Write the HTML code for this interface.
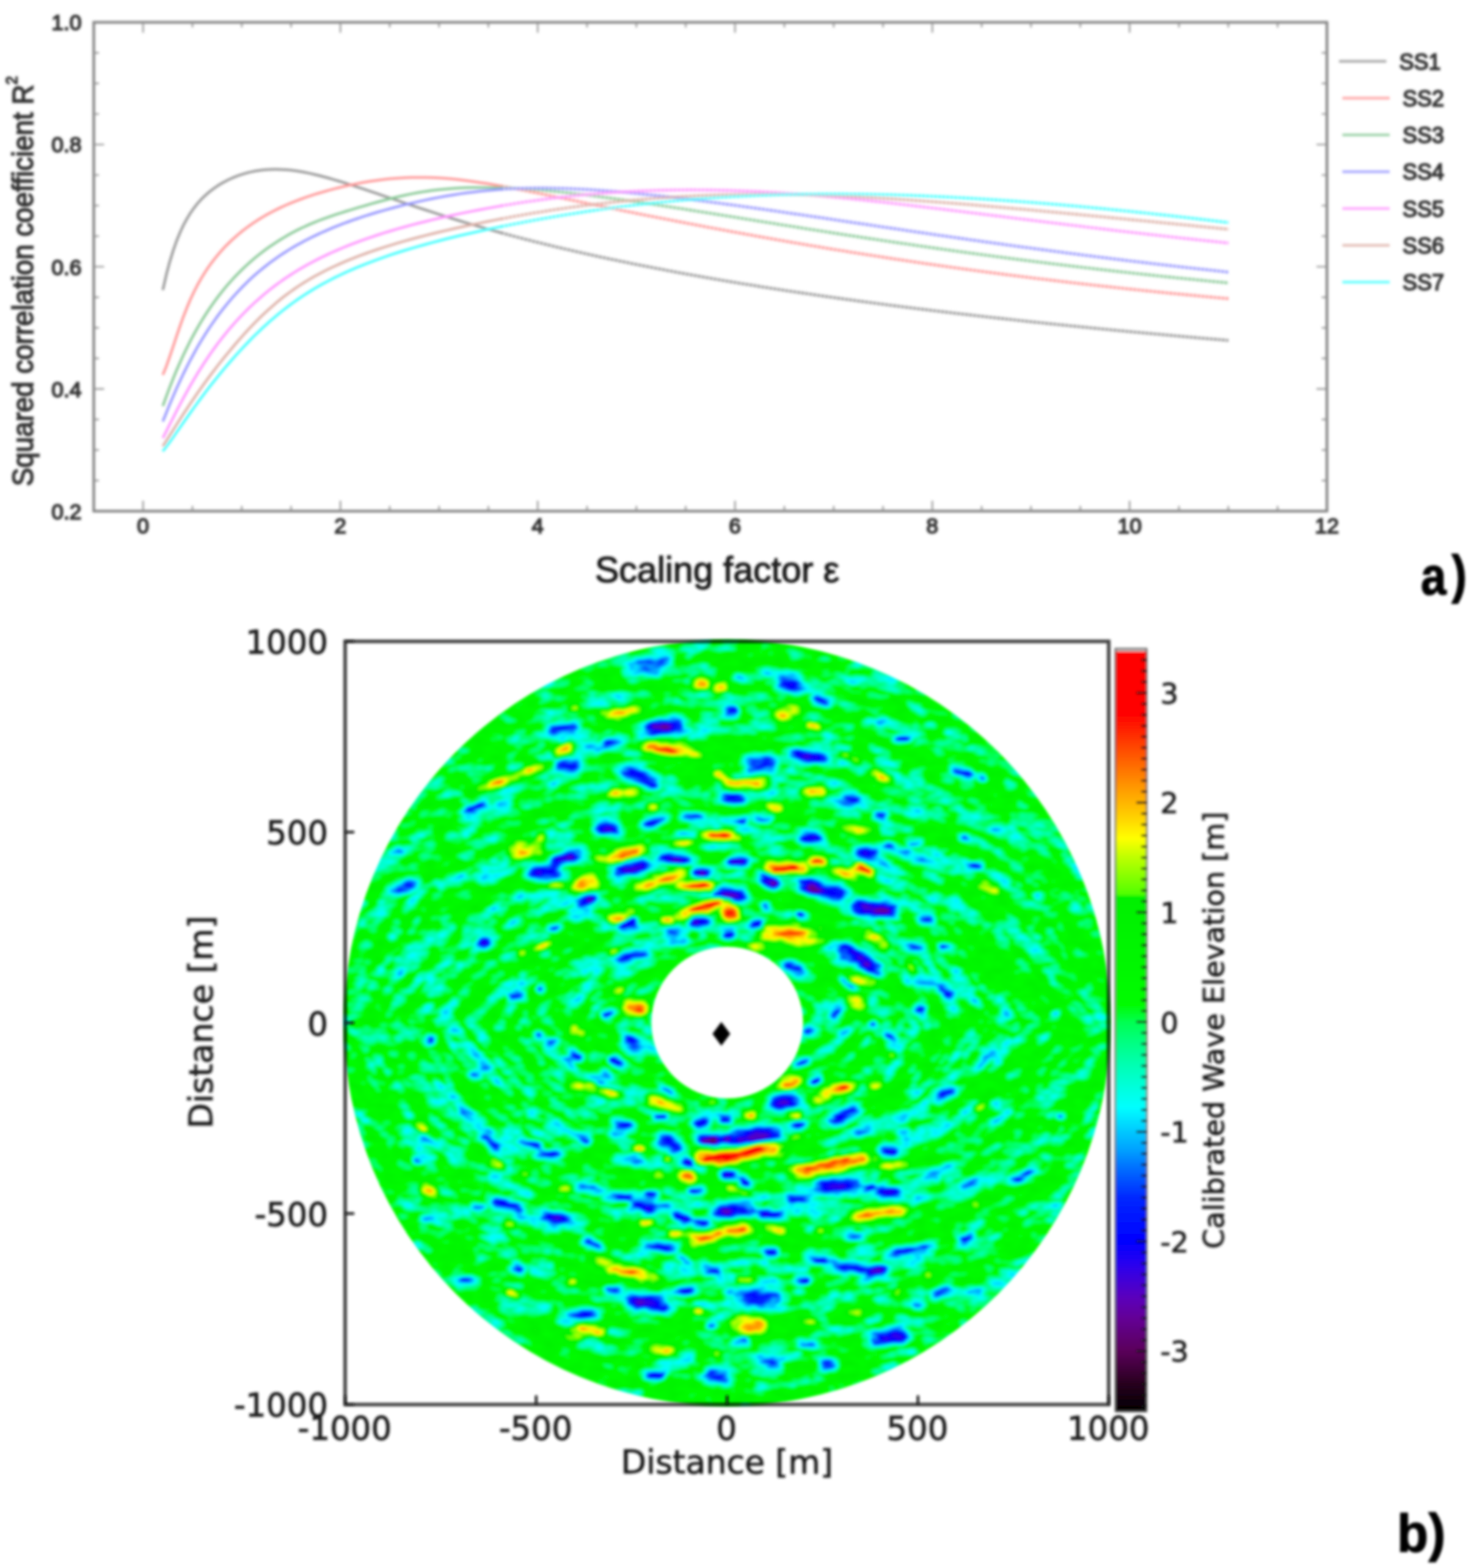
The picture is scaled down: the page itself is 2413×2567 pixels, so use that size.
<!DOCTYPE html>
<html lang="en"><head><meta charset="utf-8"><title>Figure: scaling factor and calibrated wave elevation</title>
<style>
html,body{margin:0;padding:0;background:#fff;}
body{width:2413px;height:2567px;overflow:hidden;}
svg{display:block;}
.t1{font-family:"Liberation Sans",Arial,Helvetica,sans-serif;fill:#333;}
.t2{font-family:"DejaVu Sans","Liberation Sans",sans-serif;fill:#1a1a1a;stroke:#1a1a1a;stroke-width:0.9px;}
.tb{font-family:"Liberation Sans",Arial,Helvetica,sans-serif;font-weight:bold;fill:#000;stroke:#000;stroke-width:1.6px;stroke-linejoin:round;}
</style></head><body>
<svg width="2413" height="2567" viewBox="0 0 2413 2567">
<defs>
<filter id="soft" x="-2%" y="-2%" width="104%" height="104%"><feGaussianBlur stdDeviation="2"/></filter>
<filter id="soft2" x="-2%" y="-2%" width="104%" height="104%"><feGaussianBlur stdDeviation="2"/></filter>
<filter id="soft3" filterUnits="userSpaceOnUse" x="520" y="1000" width="1340" height="1350"><feGaussianBlur stdDeviation="2.1"/></filter>
<filter id="cmapf" filterUnits="userSpaceOnUse" x="520" y="1000" width="1340" height="1350" color-interpolation-filters="sRGB">
<feGaussianBlur stdDeviation="3.2" result="b"/>
<feTurbulence type="fractalNoise" baseFrequency="0.035 0.065" numOctaves="2" seed="5" result="n"/>
<feColorMatrix in="n" type="matrix" values="1 0 0 0 0  1 0 0 0 0  1 0 0 0 0  0 0 0 0 1" result="ng"/>
<feComposite in="b" in2="ng" operator="arithmetic" k1="0" k2="1" k3="0.22" k4="-0.11"/>
<feComponentTransfer><feFuncR type="table" tableValues="0 0.031 0.063 0.094 0.125 0.157 0.19 0.222 0.255 0.288 0.32 0.353 0.359 0.366 0.373 0.379 0.386 0.392 0.382 0.373 0.363 0.353 0.32 0.288 0.255 0.222 0.19 0.157 0.118 0.078 0.039 0 0 0 0 0 0 0 0 0 0 0 0 0 0 0 0 0 0 0 0 0 0 0 0 0 0 0 0 0 0 0 0 0 0 0 0 0 0 0 0 0 0 0 0 0 0 0 0 0 0 0 0 0 0 0 0 0 0 0 0 0 0 0 0.157 0.366 0.431 0.496 0.558 0.62 0.683 0.745 0.82 0.895 0.97 1 1 1 1 1 1 1 1 1 1 1 1 1 1 1 1 1 1 1 1 1 1 1 1 1 1 1 1 1 1 1 1 1 1 0.784"/><feFuncG type="table" tableValues="0 0 0 0 0 0 0 0 0 0 0 0 0 0 0 0 0 0 0 0 0 0 0 0 0 0 0 0 0 0 0 0 0.02 0.039 0.059 0.078 0.098 0.118 0.137 0.157 0.209 0.261 0.314 0.366 0.418 0.471 0.531 0.591 0.646 0.692 0.738 0.784 0.833 0.882 0.931 0.98 1 1 1 1 1 1 1 1 1 1 1 1 1 1 1 1 0.996 0.993 0.989 0.986 0.983 0.981 0.978 0.975 0.973 0.97 0.967 0.965 0.963 0.96 0.958 0.956 0.954 0.952 0.949 0.947 0.945 0.943 0.971 1 1 1 1 1 1 1 1 1 1 0.972 0.926 0.88 0.834 0.791 0.75 0.709 0.668 0.627 0.584 0.54 0.497 0.453 0.41 0.366 0.322 0.278 0.233 0.188 0.143 0.099 0.054 0.009 0 0 0 0 0 0 0 0 0 0 0 0.784"/><feFuncB type="table" tableValues="0 0.024 0.047 0.071 0.094 0.118 0.157 0.196 0.235 0.275 0.314 0.353 0.392 0.431 0.471 0.51 0.549 0.588 0.627 0.667 0.706 0.745 0.778 0.81 0.843 0.876 0.908 0.941 0.956 0.971 0.985 1 1 1 1 1 1 1 1 1 1 1 1 1 1 1 1 1 1 1 1 1 1 1 1 1 0.977 0.939 0.901 0.863 0.824 0.784 0.745 0.706 0.659 0.613 0.566 0.519 0.469 0.417 0.365 0.314 0.216 0.118 0.02 0 0 0 0 0 0 0 0 0 0 0 0 0 0 0 0 0 0 0 0 0 0 0 0 0 0 0 0 0 0 0 0 0 0 0 0 0 0 0 0 0 0 0 0 0 0 0 0 0 0 0 0 0 0 0 0 0 0 0 0 0 0 0 0 0.784"/></feComponentTransfer>
</filter>
<linearGradient id="cb" x1="0" y1="0" x2="0" y2="1">
<stop offset="0.0000" stop-color="#c8c8c8"/>
<stop offset="0.0029" stop-color="#c8c8c8"/>
<stop offset="0.0043" stop-color="#ff0000"/>
<stop offset="0.0849" stop-color="#ff0000"/>
<stop offset="0.1353" stop-color="#ff5000"/>
<stop offset="0.1871" stop-color="#ffa000"/>
<stop offset="0.2201" stop-color="#ffd000"/>
<stop offset="0.2489" stop-color="#ffff00"/>
<stop offset="0.2734" stop-color="#beff00"/>
<stop offset="0.3050" stop-color="#78ff00"/>
<stop offset="0.3223" stop-color="#50ff00"/>
<stop offset="0.3252" stop-color="#00f000"/>
<stop offset="0.4029" stop-color="#00f600"/>
<stop offset="0.4662" stop-color="#00fc00"/>
<stop offset="0.4892" stop-color="#00ff50"/>
<stop offset="0.5165" stop-color="#00ff82"/>
<stop offset="0.5468" stop-color="#00ffb4"/>
<stop offset="0.5755" stop-color="#00ffdc"/>
<stop offset="0.6014" stop-color="#00ffff"/>
<stop offset="0.6331" stop-color="#00c8ff"/>
<stop offset="0.6576" stop-color="#00a0ff"/>
<stop offset="0.6763" stop-color="#0078ff"/>
<stop offset="0.7194" stop-color="#0028ff"/>
<stop offset="0.7770" stop-color="#0000ff"/>
<stop offset="0.8058" stop-color="#2800f0"/>
<stop offset="0.8489" stop-color="#5a00be"/>
<stop offset="0.8777" stop-color="#640096"/>
<stop offset="0.9209" stop-color="#5a005a"/>
<stop offset="0.9640" stop-color="#28001e"/>
<stop offset="1.0000" stop-color="#000000"/>
</linearGradient>
<clipPath id="disc"><path clip-rule="evenodd" d="M562.8,1674.5a627.5,627.5 0 1,0 1255.0,0a627.5,627.5 0 1,0 -1255.0,0ZM1066.3,1674.1a124.2,124.2 0 1,0 248.4,0a124.2,124.2 0 1,0 -248.4,0Z"/></clipPath>
</defs>
<rect width="2413" height="2567" fill="#fff"/>

<g filter="url(#soft)">
<g id="chart-a-axes" fill="none" stroke="#808080" stroke-width="4.2">
<rect x="153.5" y="36.5" width="2018.8" height="800.3"/>
</g>
<g stroke="#909090" stroke-width="2.4" fill="none">
<path d="M234.2,836.8v-17M234.2,36.5v17M315.0,836.8v-8.5M315.0,36.5v8.5M395.8,836.8v-8.5M395.8,36.5v8.5M476.5,836.8v-8.5M476.5,36.5v8.5M557.2,836.8v-17M557.2,36.5v17M638.0,836.8v-8.5M638.0,36.5v8.5M718.8,836.8v-8.5M718.8,36.5v8.5M799.5,836.8v-8.5M799.5,36.5v8.5M880.2,836.8v-17M880.2,36.5v17M961.0,836.8v-8.5M961.0,36.5v8.5M1041.8,836.8v-8.5M1041.8,36.5v8.5M1122.5,836.8v-8.5M1122.5,36.5v8.5M1203.2,836.8v-17M1203.2,36.5v17M1284.0,836.8v-8.5M1284.0,36.5v8.5M1364.8,836.8v-8.5M1364.8,36.5v8.5M1445.5,836.8v-8.5M1445.5,36.5v8.5M1526.2,836.8v-17M1526.2,36.5v17M1607.0,836.8v-8.5M1607.0,36.5v8.5M1687.8,836.8v-8.5M1687.8,36.5v8.5M1768.5,836.8v-8.5M1768.5,36.5v8.5M1849.2,836.8v-17M1849.2,36.5v17M1930.0,836.8v-8.5M1930.0,36.5v8.5M2010.8,836.8v-8.5M2010.8,36.5v8.5M2091.5,836.8v-8.5M2091.5,36.5v8.5M153.5,786.8h8.5M2172.2,786.8h-8.5M153.5,736.8h8.5M2172.2,736.8h-8.5M153.5,686.7h8.5M2172.2,686.7h-8.5M153.5,636.7h17M2172.2,636.7h-17M153.5,586.7h8.5M2172.2,586.7h-8.5M153.5,536.7h8.5M2172.2,536.7h-8.5M153.5,486.7h8.5M2172.2,486.7h-8.5M153.5,436.6h17M2172.2,436.6h-17M153.5,386.6h8.5M2172.2,386.6h-8.5M153.5,336.6h8.5M2172.2,336.6h-8.5M153.5,286.6h8.5M2172.2,286.6h-8.5M153.5,236.6h17M2172.2,236.6h-17M153.5,186.6h8.5M2172.2,186.6h-8.5M153.5,136.5h8.5M2172.2,136.5h-8.5M153.5,86.5h8.5M2172.2,86.5h-8.5"/>
</g>
<g id="curves" fill="none" stroke-width="4" stroke-linejoin="round" stroke-linecap="butt">
<path stroke="#949494" d="M266.5,474.9 L272.2,450.1 L277.8,428.8 L283.5,410.3 L289.1,394.3 L294.8,380.5 L300.4,368.4 L306.1,358.0 L311.7,348.8 L317.4,340.7 L323.0,333.5 L328.7,327.2 L334.3,321.5 L340.0,316.4 L345.6,311.8 L351.3,307.6 L356.9,303.8 L362.6,300.3 L368.2,297.2 L373.9,294.3 L379.6,291.7 L385.2,289.3 L390.9,287.1 L396.5,285.3 L402.2,283.6 L407.8,282.1 L413.5,280.9 L419.1,279.8 L424.8,279.0 L430.4,278.3 L436.1,277.8 L441.7,277.5 L447.4,277.3 L453.0,277.3 L458.7,277.4 L464.3,277.7 L470.0,278.1 L475.6,278.6 L481.3,279.3 L486.9,280.1 L492.6,281.0 L498.3,282.0 L503.9,283.1 L509.6,284.4 L515.2,285.7 L520.9,287.0 L526.5,288.5 L532.2,290.0 L537.8,291.5 L543.5,293.2 L549.1,294.8 L554.8,296.5 L560.4,298.2 L566.1,300.0 L571.7,301.8 L577.4,303.6 L583.0,305.5 L588.7,307.3 L594.3,309.2 L600.0,311.1 L606.0,313.1 L617.3,316.9 L628.5,320.8 L639.8,324.6 L651.1,328.4 L662.3,332.3 L673.6,336.0 L684.8,339.8 L696.1,343.5 L707.4,347.2 L718.6,350.9 L729.9,354.5 L741.2,358.0 L752.4,361.5 L763.7,364.9 L774.9,368.2 L786.2,371.5 L797.5,374.8 L808.7,377.9 L820.0,381.0"/>
<path stroke="#949494" stroke-width="4.6" stroke-dasharray="5 1.6" d="M820.0,381.0 L830.9,384.0 L841.9,386.9 L852.8,389.8 L863.7,392.6 L874.6,395.4 L885.6,398.1 L896.5,400.8 L907.4,403.4 L918.3,406.1 L929.3,408.6 L940.2,411.1 L951.1,413.6 L962.0,416.1 L973.0,418.5 L983.9,420.9 L994.8,423.2 L1005.8,425.5 L1016.7,427.8 L1027.6,430.0 L1038.5,432.3 L1049.5,434.4 L1060.4,436.6 L1071.3,438.7 L1082.2,440.8 L1093.2,442.9 L1104.1,444.9 L1115.0,447.0 L1125.9,449.0 L1136.9,450.9 L1147.8,452.9 L1158.7,454.8 L1169.7,456.7 L1180.6,458.6 L1191.5,460.4 L1202.4,462.3 L1213.4,464.1 L1224.3,465.8 L1235.2,467.6 L1246.1,469.4 L1257.1,471.1 L1268.0,472.8 L1278.9,474.5 L1289.8,476.2 L1300.8,477.8 L1311.7,479.4 L1322.6,481.0 L1333.6,482.6 L1344.5,484.2 L1355.4,485.8 L1366.3,487.3 L1377.3,488.9 L1388.2,490.4 L1399.1,491.9 L1410.0,493.4 L1421.0,494.8 L1431.9,496.3 L1442.8,497.7 L1453.7,499.2 L1464.7,500.6 L1475.6,502.0 L1486.5,503.4 L1497.4,504.7 L1508.4,506.1 L1519.3,507.4 L1530.2,508.8 L1541.2,510.1 L1552.1,511.4 L1563.0,512.7 L1573.9,514.0 L1584.9,515.2 L1595.8,516.5 L1606.7,517.8 L1617.6,519.0 L1628.6,520.2 L1639.5,521.4 L1650.4,522.6 L1661.3,523.8 L1672.3,525.0 L1683.2,526.2 L1694.1,527.4 L1705.1,528.5 L1716.0,529.7 L1726.9,530.8 L1737.8,531.9 L1748.8,533.0 L1759.7,534.1 L1770.6,535.2 L1781.5,536.3 L1792.5,537.4 L1803.4,538.5 L1814.3,539.5 L1825.2,540.6 L1836.2,541.6 L1847.1,542.7 L1858.0,543.7 L1869.0,544.7 L1879.9,545.7 L1890.8,546.7 L1901.7,547.7 L1912.7,548.7 L1923.6,549.7 L1934.5,550.7 L1945.4,551.7 L1956.4,552.6 L1967.3,553.6 L1978.2,554.5 L1989.1,555.4 L2000.1,556.4 L2011.0,557.3"/>
<path stroke="#ff9494" d="M266.5,613.7 L272.2,599.9 L277.8,584.0 L283.5,567.1 L289.1,550.1 L294.8,533.5 L300.4,517.9 L306.1,503.4 L311.7,490.1 L317.4,478.1 L323.0,467.1 L328.7,457.0 L334.3,447.8 L340.0,439.2 L345.6,431.2 L351.3,423.8 L356.9,416.9 L362.6,410.3 L368.2,404.2 L373.9,398.5 L379.6,393.0 L385.2,387.9 L390.9,383.0 L396.5,378.4 L402.2,374.0 L407.8,369.8 L413.5,365.9 L419.1,362.1 L424.8,358.5 L430.4,355.1 L436.1,351.8 L441.7,348.7 L447.4,345.7 L453.0,342.9 L458.7,340.1 L464.3,337.5 L470.0,335.0 L475.6,332.6 L481.3,330.3 L486.9,328.1 L492.6,326.0 L498.3,323.9 L503.9,321.9 L509.6,320.1 L515.2,318.2 L520.9,316.5 L526.5,314.8 L532.2,313.2 L537.8,311.6 L543.5,310.1 L549.1,308.6 L554.8,307.2 L560.4,305.9 L566.1,304.5 L571.7,303.3 L577.4,302.1 L583.0,300.9 L588.7,299.8 L594.3,298.8 L600.0,297.8 L606.0,296.8 L617.3,295.2 L628.5,293.8 L639.8,292.6 L651.1,291.7 L662.3,291.0 L673.6,290.6 L684.8,290.4 L696.1,290.5 L707.4,290.8 L718.6,291.3 L729.9,292.1 L741.2,293.1 L752.4,294.3 L763.7,295.7 L774.9,297.2 L786.2,298.9 L797.5,300.6 L808.7,302.5 L820.0,304.5"/>
<path stroke="#ff9494" stroke-width="4.6" stroke-dasharray="5 1.6" d="M820.0,304.5 L830.9,306.5 L841.9,308.6 L852.8,310.7 L863.7,312.8 L874.6,315.0 L885.6,317.2 L896.5,319.5 L907.4,321.7 L918.3,324.0 L929.3,326.3 L940.2,328.5 L951.1,330.8 L962.0,333.1 L973.0,335.3 L983.9,337.6 L994.8,339.8 L1005.8,342.0 L1016.7,344.2 L1027.6,346.4 L1038.5,348.6 L1049.5,350.8 L1060.4,352.9 L1071.3,355.1 L1082.2,357.2 L1093.2,359.3 L1104.1,361.5 L1115.0,363.6 L1125.9,365.7 L1136.9,367.7 L1147.8,369.8 L1158.7,371.9 L1169.7,373.9 L1180.6,375.9 L1191.5,377.9 L1202.4,380.0 L1213.4,382.0 L1224.3,383.9 L1235.2,385.9 L1246.1,387.9 L1257.1,389.8 L1268.0,391.7 L1278.9,393.6 L1289.8,395.6 L1300.8,397.4 L1311.7,399.3 L1322.6,401.2 L1333.6,403.0 L1344.5,404.8 L1355.4,406.7 L1366.3,408.5 L1377.3,410.2 L1388.2,412.0 L1399.1,413.8 L1410.0,415.5 L1421.0,417.2 L1431.9,418.9 L1442.8,420.6 L1453.7,422.3 L1464.7,424.0 L1475.6,425.6 L1486.5,427.3 L1497.4,428.9 L1508.4,430.5 L1519.3,432.1 L1530.2,433.6 L1541.2,435.2 L1552.1,436.7 L1563.0,438.3 L1573.9,439.8 L1584.9,441.3 L1595.8,442.8 L1606.7,444.2 L1617.6,445.7 L1628.6,447.1 L1639.5,448.6 L1650.4,450.0 L1661.3,451.4 L1672.3,452.7 L1683.2,454.1 L1694.1,455.5 L1705.1,456.8 L1716.0,458.1 L1726.9,459.4 L1737.8,460.7 L1748.8,462.0 L1759.7,463.3 L1770.6,464.6 L1781.5,465.8 L1792.5,467.0 L1803.4,468.2 L1814.3,469.4 L1825.2,470.6 L1836.2,471.8 L1847.1,473.0 L1858.0,474.1 L1869.0,475.3 L1879.9,476.4 L1890.8,477.5 L1901.7,478.6 L1912.7,479.7 L1923.6,480.8 L1934.5,481.8 L1945.4,482.9 L1956.4,483.9 L1967.3,485.0 L1978.2,486.0 L1989.1,487.0 L2000.1,488.0 L2011.0,488.9"/>
<path stroke="#86c894" d="M266.5,664.8 L272.2,649.1 L277.8,634.1 L283.5,619.8 L289.1,606.1 L294.8,593.2 L300.4,580.8 L306.1,569.1 L311.7,557.9 L317.4,547.3 L323.0,537.2 L328.7,527.6 L334.3,518.4 L340.0,509.6 L345.6,501.3 L351.3,493.3 L356.9,485.7 L362.6,478.4 L368.2,471.5 L373.9,464.8 L379.6,458.5 L385.2,452.4 L390.9,446.6 L396.5,441.0 L402.2,435.6 L407.8,430.5 L413.5,425.5 L419.1,420.8 L424.8,416.3 L430.4,411.9 L436.1,407.7 L441.7,403.7 L447.4,399.8 L453.0,396.1 L458.7,392.5 L464.3,389.1 L470.0,385.8 L475.6,382.6 L481.3,379.6 L486.9,376.6 L492.6,373.8 L498.3,371.2 L503.9,368.6 L509.6,366.1 L515.2,363.8 L520.9,361.5 L526.5,359.4 L532.2,357.3 L537.8,355.3 L543.5,353.3 L549.1,351.4 L554.8,349.6 L560.4,347.8 L566.1,346.0 L571.7,344.3 L577.4,342.6 L583.0,340.9 L588.7,339.2 L594.3,337.6 L600.0,336.0 L606.0,334.2 L617.3,331.0 L628.5,328.0 L639.8,325.0 L651.1,322.3 L662.3,319.7 L673.6,317.4 L684.8,315.3 L696.1,313.4 L707.4,311.8 L718.6,310.5 L729.9,309.4 L741.2,308.5 L752.4,307.8 L763.7,307.3 L774.9,307.0 L786.2,306.9 L797.5,306.9 L808.7,307.0 L820.0,307.3"/>
<path stroke="#86c894" stroke-width="4.6" stroke-dasharray="5 1.6" d="M820.0,307.3 L830.9,307.7 L841.9,308.2 L852.8,308.9 L863.7,309.6 L874.6,310.4 L885.6,311.3 L896.5,312.3 L907.4,313.3 L918.3,314.4 L929.3,315.6 L940.2,316.9 L951.1,318.1 L962.0,319.5 L973.0,320.9 L983.9,322.3 L994.8,323.8 L1005.8,325.3 L1016.7,326.8 L1027.6,328.3 L1038.5,329.9 L1049.5,331.5 L1060.4,333.2 L1071.3,334.8 L1082.2,336.5 L1093.2,338.2 L1104.1,339.9 L1115.0,341.6 L1125.9,343.3 L1136.9,345.0 L1147.8,346.8 L1158.7,348.5 L1169.7,350.3 L1180.6,352.0 L1191.5,353.8 L1202.4,355.5 L1213.4,357.3 L1224.3,359.1 L1235.2,360.8 L1246.1,362.6 L1257.1,364.3 L1268.0,366.1 L1278.9,367.9 L1289.8,369.6 L1300.8,371.3 L1311.7,373.1 L1322.6,374.8 L1333.6,376.5 L1344.5,378.3 L1355.4,380.0 L1366.3,381.7 L1377.3,383.4 L1388.2,385.1 L1399.1,386.7 L1410.0,388.4 L1421.0,390.1 L1431.9,391.7 L1442.8,393.4 L1453.7,395.0 L1464.7,396.6 L1475.6,398.2 L1486.5,399.8 L1497.4,401.4 L1508.4,403.0 L1519.3,404.6 L1530.2,406.1 L1541.2,407.7 L1552.1,409.2 L1563.0,410.8 L1573.9,412.3 L1584.9,413.8 L1595.8,415.3 L1606.7,416.8 L1617.6,418.2 L1628.6,419.7 L1639.5,421.1 L1650.4,422.6 L1661.3,424.0 L1672.3,425.4 L1683.2,426.8 L1694.1,428.2 L1705.1,429.5 L1716.0,430.9 L1726.9,432.3 L1737.8,433.6 L1748.8,434.9 L1759.7,436.2 L1770.6,437.5 L1781.5,438.8 L1792.5,440.1 L1803.4,441.4 L1814.3,442.6 L1825.2,443.9 L1836.2,445.1 L1847.1,446.3 L1858.0,447.5 L1869.0,448.7 L1879.9,449.9 L1890.8,451.1 L1901.7,452.2 L1912.7,453.4 L1923.6,454.5 L1934.5,455.6 L1945.4,456.7 L1956.4,457.8 L1967.3,458.9 L1978.2,460.0 L1989.1,461.1 L2000.1,462.1 L2011.0,463.2"/>
<path stroke="#9494ff" d="M266.5,690.1 L272.2,675.9 L277.8,662.1 L283.5,648.7 L289.1,635.8 L294.8,623.4 L300.4,611.5 L306.1,600.1 L311.7,589.2 L317.4,578.7 L323.0,568.6 L328.7,559.0 L334.3,549.8 L340.0,540.9 L345.6,532.5 L351.3,524.3 L356.9,516.5 L362.6,509.0 L368.2,501.9 L373.9,495.0 L379.6,488.3 L385.2,482.0 L390.9,475.8 L396.5,470.0 L402.2,464.3 L407.8,458.8 L413.5,453.6 L419.1,448.6 L424.8,443.7 L430.4,439.1 L436.1,434.6 L441.7,430.2 L447.4,426.1 L453.0,422.1 L458.7,418.2 L464.3,414.5 L470.0,410.9 L475.6,407.4 L481.3,404.0 L486.9,400.8 L492.6,397.7 L498.3,394.6 L503.9,391.7 L509.6,388.8 L515.2,386.1 L520.9,383.4 L526.5,380.8 L532.2,378.3 L537.8,375.8 L543.5,373.4 L549.1,371.1 L554.8,368.9 L560.4,366.7 L566.1,364.5 L571.7,362.5 L577.4,360.4 L583.0,358.5 L588.7,356.6 L594.3,354.7 L600.0,352.9 L606.0,351.0 L617.3,347.5 L628.5,344.3 L639.8,341.2 L651.1,338.2 L662.3,335.4 L673.6,332.6 L684.8,330.1 L696.1,327.6 L707.4,325.3 L718.6,323.1 L729.9,321.0 L741.2,319.2 L752.4,317.4 L763.7,315.8 L774.9,314.4 L786.2,313.1 L797.5,311.9 L808.7,310.9 L820.0,310.0"/>
<path stroke="#9494ff" stroke-width="4.6" stroke-dasharray="5 1.6" d="M820.0,310.0 L830.9,309.3 L841.9,308.8 L852.8,308.4 L863.7,308.1 L874.6,307.9 L885.6,307.9 L896.5,307.9 L907.4,308.1 L918.3,308.4 L929.3,308.7 L940.2,309.2 L951.1,309.7 L962.0,310.3 L973.0,311.0 L983.9,311.8 L994.8,312.6 L1005.8,313.4 L1016.7,314.4 L1027.6,315.3 L1038.5,316.4 L1049.5,317.5 L1060.4,318.6 L1071.3,319.7 L1082.2,320.9 L1093.2,322.2 L1104.1,323.4 L1115.0,324.7 L1125.9,326.1 L1136.9,327.4 L1147.8,328.8 L1158.7,330.2 L1169.7,331.6 L1180.6,333.1 L1191.5,334.6 L1202.4,336.0 L1213.4,337.6 L1224.3,339.1 L1235.2,340.6 L1246.1,342.2 L1257.1,343.7 L1268.0,345.3 L1278.9,346.9 L1289.8,348.5 L1300.8,350.1 L1311.7,351.7 L1322.6,353.3 L1333.6,354.9 L1344.5,356.5 L1355.4,358.1 L1366.3,359.8 L1377.3,361.4 L1388.2,363.0 L1399.1,364.7 L1410.0,366.3 L1421.0,367.9 L1431.9,369.6 L1442.8,371.2 L1453.7,372.8 L1464.7,374.4 L1475.6,376.0 L1486.5,377.7 L1497.4,379.3 L1508.4,380.9 L1519.3,382.5 L1530.2,384.1 L1541.2,385.7 L1552.1,387.2 L1563.0,388.8 L1573.9,390.4 L1584.9,392.0 L1595.8,393.5 L1606.7,395.1 L1617.6,396.6 L1628.6,398.1 L1639.5,399.6 L1650.4,401.2 L1661.3,402.7 L1672.3,404.2 L1683.2,405.6 L1694.1,407.1 L1705.1,408.6 L1716.0,410.0 L1726.9,411.5 L1737.8,412.9 L1748.8,414.4 L1759.7,415.8 L1770.6,417.2 L1781.5,418.6 L1792.5,420.0 L1803.4,421.4 L1814.3,422.7 L1825.2,424.1 L1836.2,425.4 L1847.1,426.8 L1858.0,428.1 L1869.0,429.4 L1879.9,430.7 L1890.8,432.0 L1901.7,433.3 L1912.7,434.5 L1923.6,435.8 L1934.5,437.1 L1945.4,438.3 L1956.4,439.5 L1967.3,440.7 L1978.2,441.9 L1989.1,443.1 L2000.1,444.3 L2011.0,445.5"/>
<path stroke="#ff92ff" d="M266.5,717.2 L272.2,706.1 L277.8,694.9 L283.5,683.8 L289.1,672.7 L294.8,661.9 L300.4,651.3 L306.1,641.0 L311.7,631.0 L317.4,621.3 L323.0,611.9 L328.7,602.9 L334.3,594.1 L340.0,585.6 L345.6,577.4 L351.3,569.5 L356.9,561.9 L362.6,554.5 L368.2,547.4 L373.9,540.5 L379.6,533.9 L385.2,527.5 L390.9,521.3 L396.5,515.4 L402.2,509.6 L407.8,504.0 L413.5,498.6 L419.1,493.4 L424.8,488.4 L430.4,483.5 L436.1,478.8 L441.7,474.3 L447.4,469.9 L453.0,465.6 L458.7,461.5 L464.3,457.5 L470.0,453.7 L475.6,450.0 L481.3,446.4 L486.9,442.9 L492.6,439.5 L498.3,436.2 L503.9,433.1 L509.6,430.0 L515.2,427.0 L520.9,424.1 L526.5,421.3 L532.2,418.6 L537.8,415.9 L543.5,413.3 L549.1,410.8 L554.8,408.4 L560.4,406.0 L566.1,403.7 L571.7,401.4 L577.4,399.2 L583.0,397.1 L588.7,394.9 L594.3,392.9 L600.0,390.9 L606.0,388.8 L617.3,385.0 L628.5,381.4 L639.8,378.0 L651.1,374.7 L662.3,371.5 L673.6,368.4 L684.8,365.5 L696.1,362.7 L707.4,359.9 L718.6,357.3 L729.9,354.8 L741.2,352.3 L752.4,349.9 L763.7,347.6 L774.9,345.4 L786.2,343.2 L797.5,341.1 L808.7,339.1 L820.0,337.1"/>
<path stroke="#ff92ff" stroke-width="4.6" stroke-dasharray="5 1.6" d="M820.0,337.1 L830.9,335.3 L841.9,333.5 L852.8,331.8 L863.7,330.1 L874.6,328.6 L885.6,327.1 L896.5,325.6 L907.4,324.2 L918.3,322.9 L929.3,321.7 L940.2,320.5 L951.1,319.5 L962.0,318.4 L973.0,317.5 L983.9,316.6 L994.8,315.8 L1005.8,315.0 L1016.7,314.3 L1027.6,313.7 L1038.5,313.1 L1049.5,312.6 L1060.4,312.2 L1071.3,311.8 L1082.2,311.5 L1093.2,311.3 L1104.1,311.1 L1115.0,311.0 L1125.9,310.9 L1136.9,310.9 L1147.8,311.0 L1158.7,311.1 L1169.7,311.2 L1180.6,311.5 L1191.5,311.7 L1202.4,312.1 L1213.4,312.4 L1224.3,312.9 L1235.2,313.4 L1246.1,313.9 L1257.1,314.5 L1268.0,315.1 L1278.9,315.8 L1289.8,316.6 L1300.8,317.3 L1311.7,318.2 L1322.6,319.0 L1333.6,319.9 L1344.5,320.9 L1355.4,321.9 L1366.3,322.9 L1377.3,324.0 L1388.2,325.0 L1399.1,326.1 L1410.0,327.3 L1421.0,328.4 L1431.9,329.6 L1442.8,330.8 L1453.7,332.0 L1464.7,333.3 L1475.6,334.5 L1486.5,335.8 L1497.4,337.1 L1508.4,338.4 L1519.3,339.7 L1530.2,341.0 L1541.2,342.3 L1552.1,343.6 L1563.0,345.0 L1573.9,346.3 L1584.9,347.7 L1595.8,349.0 L1606.7,350.4 L1617.6,351.7 L1628.6,353.1 L1639.5,354.4 L1650.4,355.8 L1661.3,357.2 L1672.3,358.5 L1683.2,359.9 L1694.1,361.2 L1705.1,362.6 L1716.0,364.0 L1726.9,365.3 L1737.8,366.6 L1748.8,368.0 L1759.7,369.3 L1770.6,370.6 L1781.5,372.0 L1792.5,373.3 L1803.4,374.6 L1814.3,375.9 L1825.2,377.2 L1836.2,378.5 L1847.1,379.8 L1858.0,381.0 L1869.0,382.3 L1879.9,383.6 L1890.8,384.8 L1901.7,386.0 L1912.7,387.3 L1923.6,388.5 L1934.5,389.7 L1945.4,390.9 L1956.4,392.1 L1967.3,393.3 L1978.2,394.4 L1989.1,395.6 L2000.1,396.7 L2011.0,397.9"/>
<path stroke="#dcaea4" d="M266.5,730.7 L272.2,721.9 L277.8,712.9 L283.5,703.9 L289.1,695.0 L294.8,686.2 L300.4,677.4 L306.1,668.8 L311.7,660.4 L317.4,652.1 L323.0,643.9 L328.7,635.9 L334.3,628.0 L340.0,620.3 L345.6,612.7 L351.3,605.2 L356.9,597.9 L362.6,590.8 L368.2,583.8 L373.9,576.9 L379.6,570.1 L385.2,563.4 L390.9,556.9 L396.5,550.5 L402.2,544.2 L407.8,538.1 L413.5,532.2 L419.1,526.4 L424.8,520.8 L430.4,515.3 L436.1,510.0 L441.7,504.9 L447.4,499.9 L453.0,495.1 L458.7,490.4 L464.3,485.9 L470.0,481.6 L475.6,477.5 L481.3,473.5 L486.9,469.6 L492.6,465.9 L498.3,462.3 L503.9,458.9 L509.6,455.6 L515.2,452.3 L520.9,449.2 L526.5,446.2 L532.2,443.3 L537.8,440.5 L543.5,437.8 L549.1,435.2 L554.8,432.6 L560.4,430.1 L566.1,427.7 L571.7,425.4 L577.4,423.1 L583.0,420.8 L588.7,418.7 L594.3,416.6 L600.0,414.5 L606.0,412.4 L617.3,408.5 L628.5,404.8 L639.8,401.3 L651.1,397.9 L662.3,394.6 L673.6,391.5 L684.8,388.5 L696.1,385.6 L707.4,382.8 L718.6,380.0 L729.9,377.4 L741.2,374.8 L752.4,372.3 L763.7,369.8 L774.9,367.4 L786.2,365.1 L797.5,362.8 L808.7,360.6 L820.0,358.4"/>
<path stroke="#dcaea4" stroke-width="4.6" stroke-dasharray="5 1.6" d="M820.0,358.4 L830.9,356.4 L841.9,354.3 L852.8,352.4 L863.7,350.5 L874.6,348.6 L885.6,346.9 L896.5,345.1 L907.4,343.4 L918.3,341.8 L929.3,340.2 L940.2,338.7 L951.1,337.3 L962.0,335.9 L973.0,334.5 L983.9,333.2 L994.8,332.0 L1005.8,330.8 L1016.7,329.7 L1027.6,328.6 L1038.5,327.6 L1049.5,326.6 L1060.4,325.7 L1071.3,324.8 L1082.2,324.0 L1093.2,323.3 L1104.1,322.6 L1115.0,321.9 L1125.9,321.3 L1136.9,320.7 L1147.8,320.2 L1158.7,319.8 L1169.7,319.4 L1180.6,319.0 L1191.5,318.8 L1202.4,318.5 L1213.4,318.3 L1224.3,318.2 L1235.2,318.1 L1246.1,318.0 L1257.1,318.0 L1268.0,318.1 L1278.9,318.2 L1289.8,318.3 L1300.8,318.5 L1311.7,318.7 L1322.6,319.0 L1333.6,319.3 L1344.5,319.7 L1355.4,320.1 L1366.3,320.5 L1377.3,321.0 L1388.2,321.5 L1399.1,322.0 L1410.0,322.6 L1421.0,323.2 L1431.9,323.8 L1442.8,324.5 L1453.7,325.1 L1464.7,325.8 L1475.6,326.6 L1486.5,327.3 L1497.4,328.1 L1508.4,328.9 L1519.3,329.7 L1530.2,330.5 L1541.2,331.3 L1552.1,332.2 L1563.0,333.0 L1573.9,333.9 L1584.9,334.8 L1595.8,335.7 L1606.7,336.7 L1617.6,337.6 L1628.6,338.5 L1639.5,339.5 L1650.4,340.5 L1661.3,341.5 L1672.3,342.4 L1683.2,343.4 L1694.1,344.4 L1705.1,345.5 L1716.0,346.5 L1726.9,347.5 L1737.8,348.5 L1748.8,349.6 L1759.7,350.6 L1770.6,351.7 L1781.5,352.7 L1792.5,353.8 L1803.4,354.8 L1814.3,355.9 L1825.2,357.0 L1836.2,358.0 L1847.1,359.1 L1858.0,360.2 L1869.0,361.2 L1879.9,362.3 L1890.8,363.4 L1901.7,364.5 L1912.7,365.6 L1923.6,366.6 L1934.5,367.7 L1945.4,368.8 L1956.4,369.9 L1967.3,371.0 L1978.2,372.1 L1989.1,373.1 L2000.1,374.2 L2011.0,375.3"/>
<path stroke="#3cffff" d="M266.5,738.8 L272.2,731.4 L277.8,723.7 L283.5,715.8 L289.1,707.7 L294.8,699.6 L300.4,691.5 L306.1,683.5 L311.7,675.5 L317.4,667.6 L323.0,659.9 L328.7,652.2 L334.3,644.7 L340.0,637.3 L345.6,630.0 L351.3,622.9 L356.9,615.9 L362.6,609.0 L368.2,602.2 L373.9,595.6 L379.6,589.1 L385.2,582.7 L390.9,576.5 L396.5,570.3 L402.2,564.3 L407.8,558.5 L413.5,552.7 L419.1,547.1 L424.8,541.7 L430.4,536.3 L436.1,531.2 L441.7,526.1 L447.4,521.2 L453.0,516.4 L458.7,511.8 L464.3,507.3 L470.0,502.9 L475.6,498.7 L481.3,494.5 L486.9,490.5 L492.6,486.7 L498.3,482.9 L503.9,479.3 L509.6,475.7 L515.2,472.3 L520.9,469.0 L526.5,465.8 L532.2,462.7 L537.8,459.7 L543.5,456.8 L549.1,453.9 L554.8,451.2 L560.4,448.5 L566.1,445.9 L571.7,443.3 L577.4,440.9 L583.0,438.4 L588.7,436.1 L594.3,433.8 L600.0,431.6 L606.0,429.3 L617.3,425.1 L628.5,421.1 L639.8,417.2 L651.1,413.5 L662.3,410.0 L673.6,406.6 L684.8,403.3 L696.1,400.2 L707.4,397.1 L718.6,394.2 L729.9,391.3 L741.2,388.5 L752.4,385.8 L763.7,383.2 L774.9,380.7 L786.2,378.2 L797.5,375.8 L808.7,373.4 L820.0,371.1"/>
<path stroke="#3cffff" stroke-width="4.6" stroke-dasharray="5 1.6" d="M820.0,371.1 L830.9,368.9 L841.9,366.8 L852.8,364.7 L863.7,362.6 L874.6,360.6 L885.6,358.6 L896.5,356.7 L907.4,354.8 L918.3,352.9 L929.3,351.1 L940.2,349.4 L951.1,347.7 L962.0,346.0 L973.0,344.4 L983.9,342.8 L994.8,341.3 L1005.8,339.9 L1016.7,338.4 L1027.6,337.1 L1038.5,335.8 L1049.5,334.5 L1060.4,333.3 L1071.3,332.1 L1082.2,331.0 L1093.2,329.9 L1104.1,328.9 L1115.0,327.9 L1125.9,327.0 L1136.9,326.1 L1147.8,325.3 L1158.7,324.5 L1169.7,323.7 L1180.6,323.0 L1191.5,322.4 L1202.4,321.8 L1213.4,321.2 L1224.3,320.7 L1235.2,320.2 L1246.1,319.8 L1257.1,319.4 L1268.0,319.0 L1278.9,318.7 L1289.8,318.4 L1300.8,318.2 L1311.7,318.0 L1322.6,317.8 L1333.6,317.7 L1344.5,317.6 L1355.4,317.6 L1366.3,317.6 L1377.3,317.6 L1388.2,317.7 L1399.1,317.8 L1410.0,317.9 L1421.0,318.1 L1431.9,318.3 L1442.8,318.6 L1453.7,318.8 L1464.7,319.1 L1475.6,319.5 L1486.5,319.8 L1497.4,320.2 L1508.4,320.6 L1519.3,321.1 L1530.2,321.6 L1541.2,322.1 L1552.1,322.6 L1563.0,323.2 L1573.9,323.8 L1584.9,324.4 L1595.8,325.0 L1606.7,325.7 L1617.6,326.4 L1628.6,327.1 L1639.5,327.8 L1650.4,328.6 L1661.3,329.3 L1672.3,330.2 L1683.2,331.0 L1694.1,331.8 L1705.1,332.7 L1716.0,333.6 L1726.9,334.5 L1737.8,335.4 L1748.8,336.4 L1759.7,337.3 L1770.6,338.3 L1781.5,339.3 L1792.5,340.4 L1803.4,341.4 L1814.3,342.5 L1825.2,343.6 L1836.2,344.7 L1847.1,345.8 L1858.0,346.9 L1869.0,348.1 L1879.9,349.2 L1890.8,350.4 L1901.7,351.6 L1912.7,352.8 L1923.6,354.0 L1934.5,355.3 L1945.4,356.5 L1956.4,357.8 L1967.3,359.1 L1978.2,360.4 L1989.1,361.7 L2000.1,363.1 L2011.0,364.4"/>
</g>
<g id="legend" stroke-width="4.2" fill="none">
<path stroke="#949494" stroke-opacity="0.8" d="M2192,100.4h77.5"/>
<path stroke="#ff9494" stroke-opacity="0.8" d="M2197.5,160.7h77.5"/>
<path stroke="#86c894" stroke-opacity="0.8" d="M2197.5,220.9h77.5"/>
<path stroke="#9494ff" stroke-opacity="0.8" d="M2197.5,281.1h77.5"/>
<path stroke="#ff92ff" stroke-opacity="0.8" d="M2197.5,341.4h77.5"/>
<path stroke="#dcaea4" stroke-opacity="0.8" d="M2197.5,401.6h77.5"/>
<path stroke="#3cffff" stroke-opacity="0.8" d="M2197.5,461.9h77.5"/>
</g>
<g class="t1" font-size="36" stroke="#333" stroke-width="1.9">
<text x="2290.5" y="113.7">SS1</text>
<text x="2296" y="174.0">SS2</text>
<text x="2296" y="234.2">SS3</text>
<text x="2296" y="294.4">SS4</text>
<text x="2296" y="354.7">SS5</text>
<text x="2296" y="414.9">SS6</text>
<text x="2296" y="475.2">SS7</text>
</g>
<g class="t1" font-size="35.5" text-anchor="middle" stroke="#333" stroke-width="1.9">
<text x="234.2" y="873">0</text>
<text x="557.2" y="873">2</text>
<text x="880.2" y="873">4</text>
<text x="1203.2" y="873">6</text>
<text x="1526.2" y="873">8</text>
<text x="1849.2" y="873">10</text>
<text x="2172.2" y="873">12</text>
</g>
<g class="t1" font-size="35.5" text-anchor="end" stroke="#333" stroke-width="1.9">
<text x="133.5" y="849.6">0.2</text>
<text x="133.5" y="649.5">0.4</text>
<text x="133.5" y="449.5">0.6</text>
<text x="133.5" y="249.4">0.8</text>
<text x="133.5" y="49.3">1.0</text>
</g>
<text class="t1" font-size="45.4" stroke="#333" stroke-width="1.7" transform="translate(54,796) rotate(-90) scale(1,1.04)">Squared correlation coefficient R<tspan font-size="25" dy="-25">2</tspan></text>
<text class="t1" font-size="60" x="974" y="953" textLength="400" lengthAdjust="spacingAndGlyphs" style="fill:#1a1a1a" stroke="#1a1a1a" stroke-width="1.4">Scaling factor ε</text>
<text class="tb" font-size="88" transform="translate(2326,973.4) scale(0.85,0.98)">a<tspan dx="10.2" dy="-3.2">)</tspan></text>
<text class="tb" font-size="88" transform="translate(2287,2540.2) scale(0.95,0.985)">b<tspan dx="0.5" dy="-1.5">)</tspan></text>
</g>
<g filter="url(#soft3)">
<g id="radar" clip-path="url(#disc)">
<g filter="url(#cmapf)" fill="none" stroke-linecap="round"><rect x="532.8" y="1017.0" width="1315.0" height="1315.0" fill="#959595"/>
<path d="M803,2174L829,2184M577,1541L636,1455M1786,1740L1828,1699M1742,1472L1788,1512M736,1261L788,1247M621,1624L673,1564M1043,1193L1103,1193M621,1942L713,1983M1551,1319L1646,1361M872,1144L899,1141M900,2230L948,2234M601,1683L617,1704M880,1170L980,1158M1657,1467L1701,1505M1525,2074L1552,2069M675,2023L708,2034M547,1556L623,1485M1011,1064L1045,1064M1335,1221L1390,1210M592,1564L614,1539M1780,1549L1800,1568M881,1276L956,1270M640,1454L703,1418M1792,1811L1813,1784M1346,1194L1386,1200M1557,2046L1631,2029M992,1073L1086,1063M1176,1148L1279,1141M1711,1980L1764,1952M1052,2136L1088,2137M1249,1161L1315,1171M1086,2302L1162,2292M765,1370L861,1368M1638,1621L1681,1665M652,1677L674,1695M709,1294L747,1277M1494,2020L1562,1987M697,1244L764,1245M846,1148L925,1133M1704,1904L1758,1834M1793,1785L1833,1735M1588,1908L1627,1880M798,2001L858,2024M1312,1135L1358,1145M792,1333L846,1321M593,1936L687,1963M651,1375L682,1361M1111,1127L1208,1136M693,1464L766,1425M1411,2078L1474,2070M989,1081L1036,1084M1023,2205L1098,2213M1698,1430L1732,1451M1360,1187L1450,1198M1444,2168L1534,2161M973,2172L1046,2190M600,1635L617,1606M1219,1121L1303,1121M1579,2024L1640,1990M1653,1549L1700,1608M693,2081L745,2102M1067,1139L1145,1135M1741,1475L1770,1514M1649,1610L1675,1655M1373,1115L1401,1121M1473,2092L1558,2060M839,2066L935,2078M825,2074L878,2082M657,1604L699,1571M1646,1454L1717,1496M692,2058L722,2073M785,1317L834,1311M604,1663L641,1615M1667,1761L1694,1707M779,2142L811,2159M1759,1775L1786,1756M764,1351L811,1333M666,1443L709,1427M1361,2127L1391,2121M1746,1800L1812,1719M805,1268L836,1259M1481,2134L1508,2126M1699,1782L1768,1706M1778,1606L1810,1658M650,1593L702,1541M1626,1365L1652,1393M1415,1108L1465,1124M1528,2122L1550,2111M1305,1220L1381,1221M1477,1172L1531,1198M1287,1119L1313,1121M1674,1354L1742,1383M1775,1635L1830,1682M1712,1456L1772,1496M1712,1877L1768,1807M582,1649L627,1589M1659,1358L1715,1383M1276,1185L1379,1189M960,1222L1017,1211M1700,1520L1741,1604M1037,2225L1128,2224M800,1311L866,1299M915,1210L992,1201M1621,1940L1671,1887M774,1176L875,1180M1162,1108L1261,1117M844,1136L894,1125M1614,2043L1672,2023" stroke="#5f5f5f" stroke-opacity="0.2" stroke-width="9"/>
<path d="M1562,1279L1585,1291M650,1805L672,1823M671,1461L695,1448M1505,1129L1531,1142M1002,1079L1100,1077M1462,2064L1529,2054M866,2202L957,2219M815,2128L846,2140M1338,1151L1399,1151M1647,1884L1698,1860M1204,2275L1300,2267M1252,2228L1314,2228M677,1621L702,1586M951,2172L988,2169M911,1259L971,1242M690,2086L786,2115M1554,1956L1639,1904M791,1273L862,1262M1249,2144L1337,2132M1633,1883L1659,1872M1716,1808L1772,1730M1018,1229L1066,1220M711,1516L735,1501M1169,2161L1224,2153M671,1587L714,1526M1390,1242L1421,1246M1065,1203L1127,1180M1744,1585L1795,1669M1713,1984L1746,1963M817,2123L866,2132M1160,2235L1188,2233M1706,1450L1755,1485M1692,1556L1728,1579M830,1327L860,1319M801,2023L830,2033M840,2023L929,2057M672,2014L709,2019M1800,1560L1832,1603M1450,1289L1515,1318M1734,1750L1756,1719M1623,1243L1713,1283M1539,2194L1580,2194M900,1259L936,1243M1604,1327L1691,1372M920,2218L1001,2236M678,1695L731,1605M812,2098L864,2113M1603,1886L1667,1864M857,1263L952,1248M633,1801L696,1843M1490,1327L1554,1340M1553,2166L1596,2152M685,1643L747,1571M682,1965L750,2014M636,1978L731,2012M1573,2106L1658,2068M701,1626L739,1592M645,1912L670,1935M866,1274L907,1268M702,1793L775,1848M1091,2298L1189,2296M1479,1285L1557,1311M1422,1181L1497,1191M913,1142L944,1135M869,2061L965,2062M1566,1957L1617,1933M1488,2066L1530,2060M1751,1914L1810,1879M619,1377L709,1341M1343,1225L1412,1239M623,1479L666,1435M1515,1223L1607,1269M1398,1105L1480,1116M1212,1136L1255,1136M712,1562L763,1489M1739,1467L1765,1493M1466,1269L1550,1297M1427,2243L1485,2243M1276,1214L1333,1217M1531,2053L1599,2007M1590,1223L1663,1244M698,1299L738,1268M894,1242L976,1219M1744,1616L1780,1670M659,1396L686,1381M572,1648L651,1583M1501,1179L1554,1200M1175,2176L1266,2172M1439,2224L1538,2191M651,1495L675,1472M1317,2291L1351,2295M1335,1196L1361,1198M871,1176L953,1186M1228,1200L1277,1193M982,1079L1045,1077M1062,1051L1156,1053M1588,1932L1668,1898M1427,2078L1482,2073M1584,1423L1640,1450M1330,2126L1399,2133M705,2091L748,2100M1039,1150L1097,1138M607,1525L647,1478" stroke="#5f5f5f" stroke-opacity="0.2" stroke-width="12"/>
<path d="M1128,1205L1168,1207M1450,2237L1548,2224M1310,2240L1339,2230M1752,1480L1815,1551M1522,1307L1611,1342M1768,1895L1789,1882M913,2159L949,2159M1791,1730L1832,1660M1712,1755L1793,1690M1054,2189L1083,2188M1076,1204L1171,1185M1690,1469L1736,1509M1673,1352L1749,1375M1702,1722L1724,1686M689,1679L745,1645M1131,1109L1220,1109M1259,1118L1300,1121M1437,1196L1481,1213M1524,1192L1598,1194M844,2162L873,2161M559,1708L626,1779M1556,1265L1590,1276M1317,2136L1418,2141M661,1639L703,1722M1489,2114L1574,2087M819,2073L883,2089M1034,1100L1087,1089M583,1673L607,1633M1648,1612L1690,1662M590,1493L609,1465M610,1387L675,1346M780,1367L858,1337M1570,2125L1623,2116M1153,2189L1231,2214M924,2186L968,2192M1184,2219L1223,2226M1455,1303L1509,1306M688,1577L721,1532M657,1561L683,1520M1465,2168L1536,2156M658,1436L690,1405M720,1798L736,1826M1418,2247L1446,2243M1689,2016L1770,1973M1441,2090L1485,2088M1319,1112L1411,1121M1431,1098L1460,1096M532,1601L595,1541M650,2027L696,2046M614,1660L653,1697M1127,1143L1182,1133M1568,1993L1592,1979M899,1127L983,1086M613,1489L658,1432M580,1539L654,1468M1016,1091L1107,1068M1572,1943L1606,1931M1313,2156L1380,2159M627,1857L710,1888M1456,2141L1494,2142M1777,1623L1825,1711M1557,1357L1613,1380M631,1669L658,1629M1315,1067L1374,1076M896,2124L984,2136M715,1873L801,1896M918,1185L949,1175M1581,1245L1654,1247M1579,1317L1605,1323M699,1964L729,1990M616,1692L640,1726M1794,1591L1842,1646M1547,2129L1597,2116M1051,2208L1146,2231M574,1764L612,1797M986,2207L1020,2207M1613,1366L1687,1391M684,1384L769,1338M679,1471L712,1445M793,1991L863,2005M1033,2139L1089,2145M1581,2039L1667,1980M1372,2137L1402,2139M1639,2074L1719,2041M543,1693L597,1776M945,2218L1024,2213M1179,2193L1243,2186M1784,1484L1828,1546M1338,1121L1405,1128M1619,1936L1648,1913M644,1825L695,1875M1292,2278L1386,2247M1110,2213L1197,2238M1344,2206L1394,2200M882,2085L934,2092M1315,2122L1362,2120M915,1227L961,1212M1463,1204L1529,1211M1695,1813L1736,1774M1328,1189L1398,1218M769,2009L807,2019M756,1233L822,1232M1667,1522L1693,1551M912,2104L939,2110M1473,1195L1567,1221M1262,2260L1328,2258M1550,1950L1622,1910M696,1853L771,1899M707,1379L800,1351M1120,2172L1159,2182M1777,1498L1798,1525M574,1648L626,1589M648,1938L744,1975" stroke="#5f5f5f" stroke-opacity="0.2" stroke-width="15"/>
<path d="M1154,2070L1258,2075M1337,1445L1387,1464M1511,1869L1583,1824M1381,1532L1459,1579M1386,2052L1449,2044M1046,1441L1073,1437M1232,1786L1324,1760M1295,1244L1395,1250M827,1446L895,1414M1246,1444L1350,1449M1278,1278L1334,1298M1512,1847L1539,1834M1028,1469L1120,1461M1594,1779L1634,1736M1330,1445L1415,1458M1209,1300L1250,1309M1332,2067L1383,2058M1547,1911L1638,1867M1346,1804L1409,1753M1513,1503L1600,1560M914,1746L937,1766M1002,2095L1089,2113M937,1769L969,1785M1139,1469L1170,1475M1230,1875L1282,1871M1311,1895L1352,1888M1375,1564L1406,1575M1333,2027L1438,2021M1241,1387L1295,1391M1044,1737L1132,1767M1003,1803L1060,1813M1214,1432L1288,1433M803,1438L895,1397M1349,2023L1385,2017M1284,1939L1343,1929M1403,1978L1458,1963M1168,2054L1212,2065M1529,1942L1574,1909M1127,1837L1161,1837M1025,1893L1078,1900M878,1691L921,1629M1450,1725L1482,1664M1470,1516L1509,1543M713,1738L748,1766M1633,1706L1649,1675M1437,1971L1495,1959M960,1567L1033,1516M1031,1882L1107,1897M1052,1350L1143,1338M1325,1547L1386,1569M945,1506L1027,1486M1023,2045L1060,2051M1318,1606L1354,1644M924,1844L964,1865M1193,1925L1294,1925M1101,1545L1173,1524M1525,1398L1593,1427M1108,1775L1134,1772M1093,2132L1157,2142M1530,1838L1565,1817M1477,1392L1562,1417M1167,2078L1193,2081M956,1615L1042,1566M1042,2066L1112,2093M1064,1578L1104,1565M1444,1517L1522,1567M1048,1800L1117,1807M1351,1603L1410,1679M1171,1277L1203,1274M901,1909L940,1926M1552,1911L1584,1898M1545,1843L1574,1823M1560,1847L1611,1773M1223,2079L1265,2080M1052,1652L1104,1717M1320,1493L1398,1520M1419,1928L1481,1907M827,1736L879,1811M836,1594L856,1566M1407,1944L1448,1919M1519,1725L1558,1665M1531,1619L1552,1649M1300,1743L1361,1712M938,1509L991,1482M1039,1587L1088,1573M1352,1889L1398,1878M831,1816L853,1836M1232,1367L1292,1372M1353,1630L1381,1666M722,1573L785,1490M853,1954L896,1968M1521,1440L1550,1459M1517,1470L1563,1488M1414,1500L1505,1549M1251,1810L1334,1790M1402,1637L1463,1688M805,1540L847,1505M1125,1521L1208,1521M1633,1645L1681,1692M1291,1288L1393,1297M820,1414L884,1385M941,2074L970,2076M1479,1591L1519,1688M992,1672L1013,1634M1482,1523L1522,1547M1064,1914L1126,1908M1339,1408L1435,1432M985,1358L1055,1336" stroke="#5f5f5f" stroke-opacity="0.25" stroke-width="9"/>
<path d="M716,1685L732,1663M931,1449L969,1441M1157,2121L1207,2114M1051,1736L1116,1747M808,1444L876,1424M1380,1780L1468,1740M1230,1259L1265,1261M1053,1850L1100,1877M1512,1398L1545,1410M1033,1839L1066,1849M1139,1827L1232,1831M1027,1814L1096,1826M1068,2073L1094,2074M1273,1472L1304,1475M1498,1966L1594,1959M1260,1925L1362,1927M939,1685L1010,1738M1293,2003L1345,1999M1234,2062L1271,2061M1013,1667L1068,1616M781,1920L832,1939M993,1783L1032,1790M1175,1523L1225,1520M1163,1954L1195,1946M1496,1791L1560,1758M1351,1331L1411,1328M1147,1907L1220,1893M1136,2005L1230,2022M1117,1986L1163,1988M1450,1419L1548,1448M859,1609L881,1573M1148,1358L1183,1364M1396,2021L1493,2003M798,1677L867,1609M1322,1542L1376,1561M1445,1752L1491,1696M1232,1489L1294,1496M1181,1508L1238,1527M933,1306L1016,1280M893,1669L937,1626M1399,1848L1439,1835M862,1437L906,1432M807,1535L854,1505M1270,1971L1324,1963M1243,1927L1272,1930M1034,1885L1082,1894M941,1322L1001,1302M1155,1485L1236,1480M1284,2059L1362,2065M803,1933L830,1944M870,1771L910,1801M1034,1965L1083,1974M943,1470L990,1460M971,1884L1038,1898M825,1732L852,1758M732,1623L755,1599M1290,1274L1329,1279M1458,1772L1517,1692M1121,1546L1169,1544M1301,1622L1332,1636M1166,2018L1205,2017M1407,1777L1434,1757M1390,1592L1432,1625M1463,2006L1510,1986M788,1697L841,1769M823,1633L854,1605M768,1759L836,1811M1101,1384L1157,1381M1551,1467L1592,1500M1615,1728L1667,1657M881,1601L935,1549M1560,1839L1597,1814M786,1502L868,1462M1061,2073L1107,2072M790,1837L849,1878M1451,1649L1493,1697M781,1750L803,1763M1261,1828L1356,1812M1582,1778L1617,1738M1379,1790L1446,1744M1513,1904L1556,1883M1032,2009L1080,2010M848,1984L943,2006M1455,1561L1484,1572M1578,1498L1641,1536M1166,1358L1228,1350M1069,1491L1115,1477M971,2054L1045,2051M1045,2063L1104,2050M1047,1326L1116,1321M1262,2138L1318,2129M992,1784L1043,1809M783,1495L872,1455M751,1709L792,1740M897,1990L971,2010M718,1678L773,1618M1401,1859L1475,1833M1026,1326L1124,1319M1086,1846L1162,1851M1483,1880L1507,1868M1414,1611L1434,1630M927,1714L996,1770M1331,1550L1384,1567M1092,1394L1133,1397M735,1645L785,1577" stroke="#5f5f5f" stroke-opacity="0.25" stroke-width="12"/>
<path d="M1193,2131L1218,2127M1057,1967L1086,1978M1018,1559L1105,1538M1316,1388L1364,1390M851,1443L929,1421M857,1918L922,1937M1276,2083L1332,2075M1155,2096L1193,2085M1581,1464L1662,1522M1095,1530L1126,1529M803,1607L869,1539M1207,1440L1280,1432M1381,1287L1471,1303M1465,1891L1537,1863M952,1732L1002,1769M1082,1322L1181,1314M1198,1814L1269,1797M1328,1364L1398,1374M1053,1940L1113,1955M1029,2014L1097,2025M874,1380L901,1378M1076,1479L1130,1468M1398,2008L1479,1990M1299,1806L1368,1778M756,1708L832,1768M878,1960L957,1997M1023,1986L1073,2005M1574,1844L1622,1812M837,1788L879,1814M902,1380L996,1361M1302,1804L1358,1774M1273,1953L1356,1941M1128,1965L1205,1983M900,1680L945,1769M968,1876L1006,1888M1307,1981L1369,1976M1003,1284L1063,1273M1048,1308L1149,1300M1093,1988L1174,1988M847,1574L921,1499M798,1802L856,1838M1620,1743L1669,1700M1386,1415L1451,1448M1274,1965L1372,1939M1343,1914L1393,1902M1158,2018L1184,2012M817,1915L889,1952M846,1566L894,1516M991,1970L1082,1995M865,1642L919,1714M1164,1420L1263,1427M918,1836L994,1880M1185,1904L1259,1911M1307,1869L1336,1860M913,1311L1006,1275M1105,1871L1146,1869M1204,1274L1299,1269M851,1637L889,1578M894,1947L922,1958M1402,1745L1426,1726M810,1512L849,1481M1049,1621L1075,1615M1500,1491L1584,1505M1057,1255L1113,1251M1553,1648L1583,1667M1024,1291L1121,1279M1325,1368L1377,1369M1081,1371L1161,1376M1381,2082L1443,2066M785,1799L807,1812M1325,1454L1416,1484M1078,2001L1172,2013M1005,1659L1043,1734M1027,1573L1063,1558M1460,1420L1504,1432M1300,2121L1358,2124M734,1598L811,1538M1633,1651L1654,1667M893,1514L960,1481M1007,1311L1050,1294M766,1885L816,1908M835,1782L896,1814M1288,1268L1313,1271M1022,1988L1063,1990M753,1473L800,1442M1196,1905L1260,1916M763,1822L823,1879M1272,1432L1302,1436M1021,1454L1068,1448M841,1957L940,1992M1241,1265L1338,1280M1098,1551L1152,1547M1141,1432L1199,1441M1474,1562L1508,1595M1589,1602L1659,1677M1089,1824L1117,1831M1484,1554L1527,1573M1435,1819L1477,1795M1015,2119L1064,2111M1304,1995L1396,1952M1175,1532L1238,1535M957,1424L1049,1397M1118,1549L1168,1543M1485,1952L1523,1947M1214,2043L1271,2044M1106,1377L1165,1385M798,1825L827,1860M1220,1442L1282,1439M1218,1830L1293,1847M1274,1268L1307,1274M1011,1739L1079,1760M1343,1234L1425,1260M876,1757L940,1807M1136,1948L1170,1947M1211,1830L1269,1821M1003,1556L1044,1531M1109,1558L1184,1547M1457,1998L1510,1986M1178,2103L1209,2107M1479,1839L1556,1771" stroke="#5f5f5f" stroke-opacity="0.25" stroke-width="15"/>
<path d="M1636,1487L1689,1539M1606,1207L1659,1232M1251,2162L1290,2160M1389,1205L1419,1202M620,1479L689,1427M793,2085L878,2103M1479,2140L1508,2129M1322,1082L1352,1087M1099,1170L1163,1170M945,1229L1006,1224M1154,1152L1203,1159M1737,1457L1778,1492M659,1952L750,1987M1239,2199L1337,2187M632,1807L686,1866M787,2037L871,2069M784,2130L869,2147M585,1690L604,1714M1627,1903L1684,1883M1122,2225L1186,2229M1671,1886L1735,1834M1617,1996L1678,1986M1663,1933L1693,1898M592,1754L620,1780M774,1401L847,1365M1675,1423L1711,1447M1336,1135L1373,1142M893,2104L994,2127M982,1159L1054,1146M749,2095L849,2126M969,1133L1044,1147M1517,1306L1544,1312M1704,1389L1785,1439M1676,1512L1720,1573M928,2095L996,2091M763,1930L789,1947M764,2029L844,2061M729,1300L817,1265M588,1485L652,1447M1513,2195L1569,2185M1040,1140L1092,1130M1203,1107L1260,1103M711,1899L741,1920M693,1513L777,1456M1494,1272L1573,1314M616,1502L648,1461M939,2270L1002,2273M628,1677L657,1629M1498,1256L1528,1263M1489,1253L1564,1269M1531,2184L1596,2170M1591,2015L1626,2002M1753,1783L1803,1708M633,1821L688,1871M640,1934L699,1975M1029,1057L1075,1052M1697,1890L1771,1842M750,1436L793,1408M1803,1774L1824,1753M618,1485L668,1443M1742,1931L1793,1900M961,2171L1021,2173M808,2161L862,2177M994,1193L1025,1194M1664,2071L1708,2059M1678,1549L1699,1569M1168,1162L1204,1163M1667,1489L1699,1514M1658,1514L1710,1574M1725,1611L1760,1655M774,1286L872,1266M1450,2220L1530,2210M1025,1134L1069,1138M1240,1183L1270,1184M1140,2227L1233,2184M958,2274L1003,2278M1707,2027L1734,2016M825,1351L853,1344M1549,2056L1638,2041M1064,2149L1118,2156M1596,2028L1651,1996M808,2069L882,2087M1244,1157L1271,1162M1620,1487L1660,1520M1657,1496L1725,1563M571,1537L629,1480M1635,1490L1705,1568M1548,2168L1580,2161M1015,2216L1084,2220M1676,1639L1700,1674M1300,1213L1335,1225M1446,1240L1485,1239M756,1388L827,1362M1185,2169L1232,2172M634,1463L657,1446M874,2216L972,2220M1303,2225L1394,2205M1110,2265L1148,2261M1245,1104L1287,1102M1545,1332L1644,1354M1458,1193L1517,1203M654,1587L694,1537M1130,1119L1234,1119M677,1992L717,2009" stroke="#5f5f5f" stroke-opacity="0.3" stroke-width="9"/>
<path d="M1731,1852L1776,1803M1324,2264L1357,2267M790,1342L861,1312M868,1257L917,1237M1484,1290L1572,1306M1681,1997L1727,1972M875,1167L925,1156M936,1171L970,1169M1614,2052L1681,2048M1642,2083L1698,2052M1285,2297L1365,2296M1078,2261L1109,2262M686,1782L728,1828M1704,1905L1750,1855M1384,1100L1456,1121M1648,1548L1697,1609M1661,1828L1706,1786M1123,1116L1180,1108M553,1683L594,1646M1086,1068L1147,1062M753,1449L815,1422M1741,1726L1785,1674M1016,2234L1080,2238M1228,1074L1309,1067M1034,2209L1067,2212M686,1939L747,1962M1578,1342L1620,1363M1387,1193L1440,1180M569,1641L596,1589M1193,1145L1255,1140M687,1877L709,1895M1294,1116L1370,1115M1369,1216L1424,1216M1182,1055L1269,1061M1029,2225L1098,2226M1773,1736L1802,1704M1579,2126L1672,2083M986,2114L1076,2147M571,1783L634,1849M1718,1802L1784,1723M1626,1353L1695,1384M1134,1134L1198,1141M1198,1140L1253,1138M1233,2132L1303,2145M1438,2068L1484,2052M1798,1662L1815,1684M600,1729L664,1797M648,1680L672,1700M658,1422L704,1401M1671,1491L1698,1511M1008,2118L1040,2111M947,1121L988,1121M799,2095L898,2111M1696,1978L1766,1939M744,2094L788,2102M674,1568L701,1538M1353,1238L1411,1249M702,2085L753,2109M1472,1211L1502,1218M1570,2138L1649,2107M1043,1054L1147,1045M655,1968L728,1987M844,1309L942,1301M1493,1264L1517,1271M1760,1879L1811,1816M1766,1554L1799,1583M1139,1106L1198,1108M548,1782L588,1842M1201,1185L1235,1178M1536,1979L1610,1946M804,2182L869,2198M1201,2277L1269,2270M1412,1182L1501,1195M1731,1409L1757,1421M828,2058L874,2071M1416,2089L1444,2085M678,1673L715,1707M1380,1105L1420,1102M688,1382L762,1368M1428,1261L1468,1272M1541,1963L1596,1954M1545,1961L1611,1938M670,1727L696,1756M1543,1200L1627,1219M1355,1102L1425,1103M1686,1882L1765,1829M585,1859L609,1881M1316,1216L1361,1222M668,1783L684,1805M886,1173L989,1175M1131,1084L1170,1096M1303,2269L1331,2270M1429,1089L1463,1093M1629,1246L1685,1277M1182,1131L1224,1135M1598,1879L1666,1810M672,1573L737,1502M600,1583L615,1549M1330,2133L1396,2136M810,1322L849,1314M1543,1392L1625,1423" stroke="#5f5f5f" stroke-opacity="0.3" stroke-width="12"/>
<path d="M841,2050L875,2058M1043,2193L1075,2193M1179,1135L1221,1138M1374,2183L1452,2169M870,1234L922,1240M885,1240L970,1186M1683,1547L1721,1597M757,1931L815,1949M692,1842L721,1875M649,1578L670,1557M1048,1065L1115,1060M1551,1947L1628,1930M905,2074L965,2078M855,1315L895,1309M886,2249L986,2265M612,1401L688,1362M1376,1205L1408,1219M655,1832L735,1895M653,1703L713,1634M1007,1142L1093,1140M1496,1265L1591,1286M1660,2014L1729,1990M1599,2138L1623,2126M1496,1220L1543,1230M680,1768L705,1799M614,1852L656,1876M712,2082L772,2097M1717,1912L1755,1884M1204,1178L1257,1172M763,1959L842,1989M799,2050L847,2071M1350,1112L1399,1112M1103,2166L1134,2169M1077,2240L1140,2250M1731,1795L1784,1746M557,1799L581,1822M1645,1457L1708,1515M1101,1197L1133,1201M1133,1176L1173,1172M804,1228L843,1210M689,1871L708,1890M1485,1209L1575,1237M784,1986L846,2012M827,2134L906,2131M1656,1528L1729,1587M948,1234L1042,1207M631,1956L725,1986M629,1933L691,1980M671,1689L722,1617M1139,1181L1203,1196M1404,2185L1505,2165M623,1644L671,1557M1017,2244L1052,2252M597,1509L627,1480M616,1952L670,1984M609,1397L685,1380M1157,1201L1248,1182M677,1475L713,1448M1244,2202L1347,2202M655,1983L719,2019M1774,1820L1848,1757M610,1739L648,1768M1135,2181L1230,2196M1686,1971L1722,1954M695,1298L721,1281M642,1412L668,1397M720,1459L791,1431M1623,1938L1650,1917M841,1194L929,1197M606,1511L637,1485M1324,1060L1357,1060M1555,2133L1653,2104M1185,1186L1271,1203M1490,1208L1550,1228M1609,1935L1659,1913M686,1762L709,1806M555,1688L599,1765M721,1881L794,1911M1735,1516L1783,1589M1593,2131L1662,2099M1745,1642L1831,1699M1256,1096L1355,1120M1191,1159L1260,1149M1677,1371L1765,1424M619,1736L654,1780M1493,2079L1558,2059M838,2057L884,2078M1330,1059L1365,1068M641,1832L702,1895M732,1467L755,1451M1346,1073L1383,1077M681,1939L714,1969M1227,1168L1298,1164M1621,1352L1666,1365M1228,1057L1315,1046M1735,1753L1800,1690M1374,1218L1443,1226M810,1206L897,1188M567,1597L610,1536M1523,2001L1596,1987M1366,2272L1440,2269M1259,1157L1352,1164M727,1471L751,1453M810,2175L850,2182M863,1274L949,1246M919,1165L994,1166" stroke="#5f5f5f" stroke-opacity="0.3" stroke-width="15"/>
<path d="M620,1592L674,1516M881,2031L915,2045M1055,1979L1091,1988M1027,2052L1088,2051M933,1649L1007,1710M1552,1212L1608,1234M1528,1606L1581,1652M1489,1401L1525,1416M1202,1480L1284,1485M1247,1820L1333,1793M916,2138L1015,2157M1026,1645L1084,1718M1177,2075L1229,2064M699,1426L777,1390M1480,1222L1521,1229M1030,1709L1084,1745M844,1215L883,1201M739,1471L822,1421M743,1677L799,1745M1426,1184L1487,1196M649,1973L732,1999M1020,1193L1091,1188M1134,1901L1191,1904M676,1374L747,1331M969,1340L1060,1323M1327,2146L1355,2141M860,1932L885,1940M833,1122L908,1135M641,1370L725,1313M928,2176L978,2196M1126,2259L1190,2253M928,1720L956,1746M1435,1946L1482,1928M1696,1874L1748,1813M1078,1120L1124,1117M815,1534L842,1496M1378,1842L1421,1823M1706,1934L1775,1893M1354,1720L1382,1692M803,2143L899,2155M822,2189L856,2194M1278,2250L1351,2262M1188,1808L1253,1807M561,1807L597,1854M936,1160L1025,1151M676,1449L714,1423M1135,1285L1235,1306M807,2082L891,2097M1485,1970L1560,1948M1271,2229L1309,2224M890,1257L939,1261M631,1414L693,1394M840,2081L923,2116M1167,1362L1223,1350M1388,1421L1420,1430M919,1506L963,1477M1221,2139L1292,2145M833,1640L868,1591M1201,2212L1254,2208M983,2156L1062,2161M1467,1997L1504,1989M861,1262L890,1258M1121,1055L1176,1044M1511,1405L1540,1414M1465,2141L1534,2126M719,1457L770,1422M646,1818L714,1878M971,2012L1040,2020M1441,1472L1520,1513M1332,2185L1377,2179M1052,1841L1128,1834M1260,1373L1309,1376M1697,1349L1746,1385M851,1614L896,1570M851,1314L897,1300M1565,1174L1632,1199M1113,1820L1174,1828M1330,2172L1415,2178M1281,1121L1330,1130M594,1526L628,1497M741,1709L784,1758M1401,2090L1494,2069M1358,1761L1398,1731M1074,1116L1157,1115M1115,1834L1177,1824M1276,2230L1309,2227M781,1725L807,1747M906,1645L919,1612M1046,2088L1126,2082M1709,1891L1730,1875M1014,1480L1097,1471M880,1345L909,1346M1497,1196L1579,1207M932,1556L971,1539M1285,2053L1363,2043M878,1642L928,1709M853,1367L947,1344M1567,1810L1591,1791M804,1895L839,1914M1016,1670L1088,1736M1033,2142L1104,2143M1059,1970L1130,1979M1653,1262L1685,1275M641,1651L670,1572M1002,2137L1088,2141M997,2179L1032,2180M1264,2143L1318,2139M731,1888L793,1937M1405,1855L1450,1839M1280,1744L1348,1720M1004,1500L1045,1493M660,1901L697,1925M1040,1460L1110,1457M1549,1283L1608,1302M1482,2184L1539,2182M1576,1752L1607,1681M1584,1956L1659,1895M825,1327L883,1317M1320,1469L1353,1477M1074,2122L1110,2120M1065,2231L1142,2225M1423,1854L1496,1821M1712,1789L1787,1715M1527,1855L1587,1807M617,1495L645,1479M764,1457L797,1431M570,1672L591,1645M1547,1196L1612,1198M708,1333L795,1292M1073,1256L1106,1254M778,1432L813,1407M1441,1750L1500,1686M561,1665L601,1731M1484,1150L1550,1167M1690,1564L1757,1642M1724,1413L1803,1454M1561,1459L1599,1493M1539,2128L1634,2095M680,1983L742,2009M827,1781L869,1823M1761,1924L1798,1900M1429,1950L1467,1930M1392,1247L1487,1277M1091,1203L1191,1193M1505,2195L1579,2167M794,1536L829,1510M665,2078L764,2111M682,1294L720,1279M1381,1424L1431,1440M1766,1466L1822,1522M1211,2119L1306,2126M1149,2154L1215,2153M691,1457L732,1430M799,1334L842,1322M650,1664L710,1601M1360,1863L1450,1828M1093,1805L1140,1811M1009,1837L1067,1864M1517,1929L1600,1921M1527,1525L1561,1536M980,2154L1067,2146M1393,1734L1449,1674M1288,1995L1368,1993M916,1667L946,1646M813,1713L838,1733M1676,1984L1706,1965M1083,2247L1160,2266M650,1671L676,1701M1171,1537L1215,1536M1337,1198L1369,1201M825,1221L905,1201M1477,2199L1580,2185M1008,1536L1062,1518M1477,1218L1509,1215M1013,1684L1044,1642M865,1717L884,1745M599,1712L639,1758M1317,1901L1408,1890M1236,1962L1320,1952M1087,2242L1124,2238M1027,1235L1058,1236M712,1569L740,1551M1118,1534L1151,1531M1319,1298L1399,1318M1093,1571L1162,1573M1311,2002L1372,1995M693,1741L745,1808M1330,1634L1355,1661M833,1924L874,1935M1637,1438L1685,1475M809,1851L859,1876M758,1813L839,1862M1096,1836L1140,1846M1565,1562L1622,1634M1472,1478L1526,1502M735,1432L764,1406M978,1953L1021,1964M1666,1858L1723,1806M1140,2133L1244,2125M908,1744L963,1803M1289,1296L1389,1309M1506,1409L1555,1429M1271,1112L1308,1110M741,1713L771,1751M1070,2080L1107,2086M1040,1385L1124,1398M1129,1101L1157,1099M1132,1231L1158,1225M931,1417L1003,1404M1768,1623L1806,1656M1437,2079L1510,2060M990,1066L1025,1067M1301,1536L1370,1556M1102,1495L1151,1492M781,1673L810,1628M1473,1998L1502,1990M925,2207L1019,2224M1070,1554L1151,1557M1376,1083L1466,1094M1074,2219L1134,2217M728,1783L796,1861" stroke="#5f5f5f" stroke-opacity="0.4" stroke-width="9"/>
<path d="M1140,1464L1212,1463M1296,1330L1332,1331M1385,1518L1452,1542M772,1676L820,1736M587,1821L642,1877M656,1396L706,1358M1695,1832L1726,1798M901,1660L945,1617M1366,1796L1422,1746M1467,1469L1500,1481M1406,1742L1439,1718M1313,1865L1341,1863M1624,1943L1649,1937M1092,1888L1175,1897M1118,2223L1188,2230M990,1867L1084,1873M1394,1912L1460,1888M713,1406L736,1390M1161,1067L1196,1067M1479,1926L1573,1883M996,2182L1091,2209M917,1143L985,1144M833,1504L930,1478M1183,1208L1264,1192M820,1617L882,1576M1465,2064L1527,2054M793,2027L894,2051M821,2113L890,2136M1426,1105L1465,1112M794,2008L824,2023M1443,1841L1510,1817M1237,2102L1336,2100M1372,1341L1465,1364M916,1667L940,1639M1010,1232L1080,1227M679,1579L739,1513M958,1930L1010,1942M1372,1781L1397,1772M1566,1477L1614,1512M1344,1064L1408,1073M969,1768L1023,1787M761,1613L797,1567M1377,1154L1433,1165M756,1259L819,1260M1684,1334L1745,1362M1119,1158L1210,1151M1154,1427L1224,1415M688,1691L719,1738M1734,1402L1762,1421M1539,1885L1626,1855M1692,1770L1753,1691M1679,2041L1755,2003M1053,1291L1126,1302M1667,1882L1725,1825M1316,2160L1414,2143M1120,1297L1185,1292M1625,2109L1662,2090M1299,1887L1397,1860M1430,1958L1522,1923M676,1414L743,1371M760,1608L784,1577M1408,1260L1507,1281M1465,1323L1539,1326M1490,2115L1516,2115M925,1156L974,1149M1549,1650L1577,1690M1197,2149L1267,2144M1418,1261L1472,1288M1612,1382L1674,1420M787,1744L848,1820M1055,1136L1116,1152M1470,1945L1529,1915M1413,1612L1432,1631M1232,2148L1313,2159M658,1878L709,1901M985,2281L1088,2290M1484,1485L1566,1526M1598,1752L1658,1725M591,1686L609,1710M657,1749L708,1785M762,1315L831,1293M1013,1714L1061,1725M959,1227L1025,1227M1584,1760L1638,1699M1225,2135L1328,2143M1605,1751L1639,1722M1235,1105L1307,1105M871,1131L928,1119M1328,1328L1433,1334M1411,2090L1507,2064M1195,1106L1226,1112M1439,1384L1510,1405M1616,1823L1649,1793M808,1141L905,1123M1036,1783L1094,1810M1571,1342L1636,1364M706,1861L758,1888M1547,1310L1574,1322M1263,1629L1337,1672M1591,1339L1637,1342M1303,1418L1378,1437M1245,1125L1334,1121M794,1221L879,1193M863,1807L929,1860M1470,1866L1510,1855M1261,2214L1329,2222M812,1639L830,1614M1313,1127L1363,1138M620,1562L653,1511M1225,1953L1294,1971M1064,1908L1154,1917M1620,2078L1675,2065M1240,1166L1286,1167M1609,1830L1674,1781M853,1995L952,2019M1645,1887L1692,1867M769,2048L836,2080M1328,1172L1426,1190M1441,1283L1490,1284M1150,1125L1194,1125M844,1406L920,1381M1545,2071L1572,2061M1689,1341L1764,1368M1409,2100L1440,2089M1114,2150L1164,2155M1067,2266L1149,2269M1234,2219L1286,2223M1178,1360L1217,1364M1429,1280L1486,1289M579,1460L644,1415M674,1665L702,1645M814,1686L882,1607M958,1474L1002,1446M733,1246L767,1231M1383,1572L1416,1600M1174,1463L1239,1469M747,2081L784,2093M1577,1617L1599,1637M1535,1934L1578,1914M1763,1899L1812,1860M1724,1610L1790,1681M1278,1958L1376,1948M645,1339L682,1319M873,1304L947,1284M895,2016L981,2014M1200,1496L1239,1495M1467,1714L1521,1653M831,2061L869,2088M899,1468L971,1436M1501,1457L1567,1474M1239,1204L1333,1212M1421,1874L1472,1848M999,1555L1088,1514M1417,1907L1483,1885M665,1821L708,1854M660,1308L742,1263M816,1333L843,1326M861,1670L909,1725M1096,1480L1135,1479M652,1762L674,1784M1078,2118L1172,2115M1051,1450L1117,1434M1477,1949L1553,1909M1642,2080L1703,2053M828,2136L914,2147M626,1423L715,1382M666,1536L721,1449M1015,2279L1069,2279M999,1201L1103,1189M580,1728L606,1766M1406,2040L1440,2036M1669,2020L1742,1953M1547,1641L1572,1675M767,1672L813,1625M1057,1984L1090,1993M1414,2098L1467,2091M1591,1310L1627,1317M777,1607L831,1566M1062,1281L1103,1278M1039,1968L1142,1973M1022,1164L1069,1160M730,2119L800,2158M603,1428L661,1380M1230,1192L1263,1190M827,1221L907,1204M904,1977L1004,2002M1387,1105L1489,1107M1046,1638L1105,1718M1038,1183L1112,1190M1697,1371L1744,1391M1270,1424L1304,1432M1497,1161L1578,1167M1574,1903L1599,1888M1019,1689L1082,1625M1223,1285L1294,1274M931,1744L1007,1784M1182,2171L1238,2172M708,1309L766,1295M1329,2000L1371,1996M828,2181L879,2197M1390,2116L1480,2116M977,2127L1049,2119M1012,1683L1037,1636M869,1480L907,1475M1470,1243L1505,1254M1298,1195L1363,1209M1155,1862L1252,1876M661,1585L681,1566M1227,1297L1324,1287M1335,2185L1375,2176M725,1666L740,1636M1299,2254L1352,2253M1486,1573L1553,1637M801,1163L861,1158M725,1881L765,1901M1520,1599L1571,1647M1255,1858L1323,1856M1225,1166L1311,1164M1041,1372L1106,1354M819,2109L856,2124M674,1478L754,1435M977,1523L1041,1506M986,1780L1080,1821M1154,1435L1225,1426M1644,1735L1696,1670M1321,1889L1415,1881M670,1390L721,1381M1650,1512L1705,1550M1153,1457L1192,1466" stroke="#5f5f5f" stroke-opacity="0.4" stroke-width="12"/>
<path d="M1724,1459L1764,1489M1305,1223L1392,1231M1664,1950L1740,1902M905,1792L937,1823M1298,1078L1358,1088M1078,1200L1172,1188M1121,1948L1175,1948M1031,1442L1060,1448M806,1438L854,1424M1388,2158L1443,2153M1292,1840L1383,1833M1651,1359L1748,1398M1394,1431L1455,1440M680,1556L706,1516M970,1450L1041,1444M1093,1815L1128,1820M583,1448L652,1393M1166,1356L1267,1359M883,1465L919,1453M1095,2092L1124,2095M865,1299L951,1265M1386,1549L1440,1591M1354,1222L1410,1227M1071,1981L1171,1973M1571,1858L1644,1829M922,1213L960,1199M1137,1369L1200,1371M1266,2078L1315,2077M1256,1249L1303,1252M1375,1793L1411,1782M1194,1968L1243,1964M1218,1902L1319,1895M1010,1903L1095,1915M1359,1951L1432,1930M715,1835L748,1856M1102,1381L1182,1389M1056,1690L1094,1656M1453,1345L1487,1357M992,2278L1044,2283M1635,1819L1673,1773M1352,1210L1419,1221M886,1238L975,1211M650,1643L698,1589M1418,1510L1496,1574M1048,1958L1130,1998M1197,2098L1273,2102M1659,1343L1701,1372M1108,1538L1134,1536M1336,1643L1366,1686M623,1688L647,1724M1693,1504L1726,1567M1324,1217L1411,1221M1490,1584L1545,1637M774,1914L835,1921M759,1515L812,1484M841,1999L884,2013M1598,1728L1629,1681M1325,1803L1361,1791M773,1269L840,1238M847,1132L894,1127M740,1829L811,1876M1134,1351L1169,1346M1233,1441L1322,1464M976,1590L1044,1548M963,1793L1016,1824M784,2044L839,2051M1260,1523L1346,1558M1043,2123L1117,2131M1558,2025L1603,2000M1170,2089L1222,2090M1003,1602L1090,1560M541,1574L594,1513M1012,1404L1079,1407M955,2200L1056,2224M1316,1625L1361,1653M701,1843L757,1884M844,1412L872,1400M1265,1274L1364,1281M1161,1048L1224,1050M1554,1401L1595,1420M608,1379L668,1361M780,2057L831,2071M989,1987L1076,1996M919,1373L982,1373M639,1615L679,1579M1639,1510L1681,1542M1165,1041L1229,1068M706,1789L776,1858M781,1303L873,1289M1050,1810L1088,1824M1621,2095L1668,2084M980,1310L1019,1309M1161,1337L1226,1356M887,1657L912,1635M775,1556L795,1540M1286,1724L1349,1667M1493,2167L1592,2138M1105,1130L1134,1126M1091,2115L1194,2098M702,1649L746,1714M1184,1227L1269,1240M1626,1626L1665,1680M1563,1551L1590,1587M1462,1128L1534,1136M994,1667L1021,1690M1260,2085L1319,2074M1713,1892L1747,1860M1377,1372L1439,1410M1304,1846L1330,1841M823,2149L849,2162M743,1647L791,1592M937,1696L1008,1760M1456,1756L1515,1704M1010,1850L1045,1870M1399,1091L1470,1099M1574,2040L1621,2035M1093,2198L1150,2196M744,1604L797,1563M935,1739L1011,1781M699,1374L771,1359M968,1665L998,1631M748,1981L826,2025M1588,1727L1646,1646M727,1652L775,1722M1198,1275L1248,1279M937,1929L1010,1964M786,1733L818,1769M1428,2208L1492,2208M1013,1793L1096,1806M1569,1829L1591,1791M900,1246L976,1230M1596,1221L1632,1240M606,1518L621,1497M1300,1599L1361,1663M838,1943L862,1952M654,1575L708,1517M901,1294L955,1283M844,2077L924,2083M1414,1326L1477,1333M1511,1161L1537,1165M1431,1375L1505,1402M1206,1282L1272,1276M1284,1352L1334,1365M821,1177L913,1166M698,1691L725,1727M987,1387L1040,1352M609,1905L673,1978M1445,1940L1543,1912M1571,1420L1608,1424M1375,1451L1433,1484M1651,1504L1678,1523M786,2158L817,2167M1145,2150L1185,2141M1092,2274L1151,2277M1619,1706L1651,1667M860,1421L918,1412M1393,1609L1450,1659M938,1697L1000,1754M683,1405L746,1379M1556,2085L1604,2057M1204,2241L1257,2231M949,1172L1048,1140M1214,1472L1300,1493M1123,1963L1210,1983M1310,2118L1353,2120M1388,1112L1469,1129M1197,2237L1267,2250M972,2113L1057,2118M793,1482L819,1465M666,1487L742,1427M812,1915L864,1933M824,1215L855,1216M874,1998L941,2011M703,1913L732,1935M1051,1450L1090,1432M1361,1427L1461,1440M1305,2092L1397,2087M779,1324L849,1310M724,1208L821,1192M887,1201L938,1174M553,1797L590,1832M804,2050L886,2077M898,1971L926,1980M866,1842L897,1864M606,1601L632,1570M1176,1852L1269,1868M1095,1537L1131,1531M1069,1103L1152,1091M1210,1388L1275,1389M1653,1287L1731,1303M1120,1068L1208,1045M929,1923L998,1930M1571,1369L1671,1402M731,1971L809,1996M966,1103L1025,1077M960,1915L1017,1932M818,1700L865,1764M1515,1568L1548,1636M1246,1107L1294,1114M1693,1375L1744,1404M879,1896L959,1935M1706,1797L1780,1743M948,1143L982,1140M1300,1304L1381,1326M1609,1295L1690,1350M1390,1992L1424,1987M760,1403L807,1375M1533,1561L1571,1588M792,1920L861,1953M868,1703L905,1748M1541,2094L1629,2065M1426,1866L1466,1847M1570,1421L1640,1446M711,1973L743,1991M1607,1590L1658,1637M1296,1803L1393,1806M967,2112L1049,2142M1028,1863L1127,1866M1325,1880L1395,1868M1522,2034L1597,2000M1498,1699L1531,1666M1311,1829L1362,1798M1297,2300L1366,2286M745,2090L770,2098M969,1147L1063,1138M897,1844L942,1869M1128,2142L1189,2137M992,1516L1073,1488M1362,1888L1408,1868M1143,2230L1186,2231M1669,1543L1689,1559M1533,1210L1574,1216M996,1158L1085,1154M726,1982L774,1993M874,2004L951,2008M1345,1552L1390,1571M1354,2125L1424,2116M1618,1984L1675,1945M1676,1382L1769,1420M951,1342L1022,1319M1287,1579L1328,1602M708,1698L751,1763M1173,2259L1249,2267M1477,1401L1552,1436M1336,1231L1439,1228M1210,1941L1307,1927M1016,2154L1081,2161M1741,1396L1770,1425M975,1757L1069,1793M943,1373L976,1374" stroke="#5f5f5f" stroke-opacity="0.4" stroke-width="15"/>
<path d="M1126,1916L1153,1913M1195,1412L1289,1404M1384,1511L1432,1520M1291,1264L1375,1278M1501,1549L1582,1602M1112,1845L1139,1842M1266,1992L1356,1983M1334,1384L1380,1391M1321,1849L1385,1832M876,2006L915,2017M1061,1470L1118,1471M1485,1336L1515,1342M1370,1507L1432,1524M1338,1846L1411,1825M1046,1695L1078,1721M944,1633L988,1578M1507,1728L1534,1702M1194,2064L1267,2066M904,1802L929,1821M1415,1993L1501,1967M1380,1310L1414,1317M961,1479L987,1475M908,1353L994,1330M1039,1978L1078,1985M1007,1891L1037,1896M1082,1867L1153,1880M949,1322L996,1290M1104,2114L1143,2113M1113,1823L1172,1827M1508,1831L1552,1820M1164,1378L1252,1354M1546,1754L1606,1671M968,1660L998,1612M790,1732L812,1767M1048,1553L1116,1540M784,1946L872,1978M1170,1822L1216,1825M948,1499L974,1483M822,1818L850,1835M896,1827L965,1853M1131,1371L1197,1370M1048,1513L1112,1516M1462,1613L1481,1633M1039,1664L1091,1635M1298,1268L1359,1283M1587,1844L1634,1808M1022,2062L1123,2081M1462,1368L1514,1391M857,1459L913,1433M1315,1381L1395,1389M841,1814L936,1859M858,1363L955,1342M1380,1935L1461,1890M1090,1440L1142,1433M1608,1823L1637,1798M956,1589L1051,1546M1448,1773L1477,1710M927,1829L1004,1858M1114,1456L1210,1465M1259,1758L1339,1755M1421,1827L1484,1804M903,1870L949,1896M1362,1554L1418,1578M966,1501L1055,1483M763,1604L789,1572M1257,1818L1309,1822M995,1575L1074,1543M1609,1754L1676,1691M1571,1785L1592,1755M872,1875L930,1908M1133,1792L1187,1802M1135,2019L1180,2008M878,1672L922,1734M1181,1311L1267,1300M1212,1296L1296,1314M1027,1250L1068,1250M951,1402L995,1392M1272,1243L1347,1255M1017,1788L1092,1805M875,1589L953,1547M1356,1974L1420,1975M851,1472L925,1456M1059,1355L1153,1368M1234,1579L1304,1597M1122,1888L1174,1892M1285,1975L1369,1969M724,1748L763,1831M835,1913L905,1938M932,1339L1012,1309M791,1437L884,1389M1465,1829L1513,1808M1400,1599L1432,1627M1334,1450L1368,1456M1171,2138L1252,2130M945,1450L982,1440M1221,2108L1316,2115M872,1854L952,1884M1082,1437L1160,1425M1349,1408L1452,1423M1126,1491L1208,1473M1343,1329L1408,1343M833,1942L869,1951M1343,1753L1392,1728M1018,1939L1074,1965M968,1686L1000,1718M1390,2058L1467,2059M1454,1628L1501,1681M1614,1657L1663,1688M1502,1794L1556,1718M1074,1836L1133,1847" stroke="#5f5f5f" stroke-opacity="0.55" stroke-width="9"/>
<path d="M1473,1795L1495,1774M936,1504L957,1490M845,1622L856,1596M1252,2064L1336,2060M1128,1903L1217,1896M966,1952L1035,1955M1148,1351L1232,1356M1537,1576L1608,1623M937,1960L1016,1983M1559,1516L1577,1537M1025,1699L1093,1730M778,1532L812,1509M984,2063L1063,2056M1564,1725L1580,1695M900,1461L983,1435M1309,1697L1331,1671M776,1839L841,1879M1050,1705L1132,1761M889,1743L910,1758M1258,2080L1319,2078M1361,1716L1388,1689M935,1939L992,1959M1016,1419L1100,1406M947,1258L1017,1262M1406,1624L1455,1674M1423,1433L1458,1442M1017,1952L1067,1959M1148,1977L1206,1980M1433,1859L1495,1823M1028,1662L1049,1644M1239,1235L1340,1247M1244,1399L1310,1398M1064,1786L1140,1803M873,1867L917,1910M745,1473L819,1436M762,1527L804,1495M796,1537L854,1510M1069,1389L1157,1377M1318,1976L1407,1991M998,1668L1036,1614M1347,2023L1439,1992M822,1904L860,1920M1516,1801L1589,1736M718,1587L788,1511M1589,1839L1622,1805M852,1775L884,1800M1293,1326L1336,1330M1135,1535L1225,1536M874,1520L901,1515M1124,1545L1225,1558M797,1585L840,1561M815,1894L840,1911M801,1443L871,1404M833,1846L855,1861M1482,1547L1509,1567M837,1639L876,1594M953,1801L1031,1840M1324,1445L1355,1448M1055,1311L1141,1308M1224,1889L1271,1891M1030,2022L1107,2014M1282,1982L1346,1970M865,1680L910,1727M1097,1436L1177,1436M986,1452L1042,1442M1075,1341L1164,1343M1115,2030L1155,2026M1461,1465L1528,1490M1176,2051L1242,2032M951,1461L1045,1446M1164,1875L1266,1876M1159,1390L1260,1373M995,1969L1037,1984M896,1721L921,1754M908,1709L988,1777M856,1512L923,1462M902,1423L950,1402M890,1600L986,1559M813,1682L854,1629M1231,1889L1317,1879M1224,1965L1293,1944M1226,1881L1285,1867M742,1686L796,1739M1080,1326L1110,1325M1283,1899L1321,1898M1149,1425L1205,1419M1438,1774L1504,1711M1445,1549L1511,1611M941,1650L971,1607M1396,1830L1479,1801M1305,1327L1363,1339M1228,1561L1310,1590M830,1868L912,1902M932,1648L977,1614M1399,1920L1433,1912M1180,1892L1266,1899M1150,1862L1242,1866M1350,1472L1428,1508M756,1710L819,1775M760,1533L814,1479M1436,1411L1496,1430M1340,2052L1434,2048M745,1558L824,1503M1233,1284L1268,1286M1178,2096L1267,2095M1416,2044L1499,2014M1428,1612L1481,1653M1419,1756L1454,1723M1219,1981L1258,1978M884,1754L922,1790M1242,1778L1296,1777M1007,1490L1088,1451M1458,1533L1515,1560M1444,1964L1483,1952M715,1772L777,1837" stroke="#5f5f5f" stroke-opacity="0.55" stroke-width="12"/>
<path d="M972,1983L1007,1993M1410,1426L1463,1436M950,1302L1004,1302M1391,1489L1467,1502M1508,1849L1604,1807M1467,1877L1551,1847M1057,1538L1143,1516M1126,2084L1164,2075M1462,1391L1559,1428M1072,1296L1113,1291M1253,2007L1305,1988M947,1943L993,1951M1017,2028L1063,2044M930,1600L1013,1554M1496,1424L1573,1458M1397,1385L1474,1425M1272,1249L1337,1269M1495,1616L1549,1701M878,1665L929,1624M917,1848L942,1858M844,1471L886,1455M1099,1889L1163,1892M890,1372L988,1366M950,1950L1030,1957M978,1402L1059,1363M945,1648L961,1623M743,1794L796,1853M1461,1811L1500,1789M1045,1539L1105,1514M1399,1512L1448,1546M898,1811L944,1870M1339,1729L1398,1680M1525,1923L1554,1913M1271,1434L1368,1447M821,1552L898,1518M1260,1307L1292,1312M1032,1419L1060,1416M1495,1576L1560,1652M1533,1467L1592,1496M1271,1263L1371,1259M989,1892L1033,1895M1637,1616L1652,1639M880,1658L922,1624M1295,1825L1340,1815M903,1487L992,1438M1477,1583L1517,1618M1444,1346L1484,1369M827,1408L887,1383M1096,2070L1141,2079M1062,1325L1160,1304M1152,2016L1219,2014M877,1366L903,1357M1306,2012L1361,2008M753,1584L808,1531M789,1802L847,1848M1075,1528L1106,1517M1460,1444L1488,1451M1443,1960L1530,1934M1063,2008L1100,2019M1094,1369L1169,1362M1012,1538L1090,1509M1342,2081L1372,2068M1102,1544L1134,1536M1439,1993L1511,1957M812,1815L835,1839M1415,1959L1470,1941M1121,1434L1153,1435M1465,1849L1516,1814M1333,2029L1420,2017M984,2075L1030,2078M916,1798L973,1832M1014,1597L1060,1582M993,1907L1091,1905M1294,1942L1355,1936M1370,1378L1420,1402M1265,2007L1339,1991M1003,1660L1084,1607M884,1387L934,1376M1016,1397L1091,1395M1359,1390L1431,1416M1373,1593L1413,1607M768,1670L830,1752M1158,1342L1257,1342M1318,1272L1415,1303M805,1888L891,1909M1444,1893L1515,1849M1464,1444L1491,1451M1088,1371L1138,1363M880,1396L941,1373M1611,1744L1647,1702M1382,1861L1460,1833M1433,2019L1477,2010M778,1839L856,1894M1374,1771L1436,1729M1471,1929L1497,1918M1412,1755L1459,1711M1209,1517L1287,1503M957,1779L984,1801M711,1666L742,1640M1516,1928L1563,1903M1098,1876L1200,1881M875,1451L929,1430M1471,1776L1537,1709M1630,1611L1683,1663M1281,1252L1327,1260M1579,1588L1598,1612M1395,1311L1434,1319" stroke="#5f5f5f" stroke-opacity="0.55" stroke-width="15"/>
<path d="M1029,1512L1102,1496M1183,1353L1267,1338M1596,2020L1662,1991M852,2056L912,2081M876,1109L944,1102M1389,1512L1435,1535M535,1697L591,1746M965,1981L1001,1995M761,1576L838,1537M1720,1392L1752,1424M1602,1810L1639,1769M1424,1322L1494,1347M1270,1850L1351,1830M1219,1383L1299,1379M1190,2194L1268,2186M1746,1540L1761,1564M1051,2258L1114,2269M591,1906L632,1933M1370,2141L1456,2117M876,1601L902,1574M908,1793L951,1822M843,1803L891,1828M1088,1785L1150,1791M961,2149L1032,2144M1263,2064L1337,2056M1161,1405L1189,1402M774,1202L820,1183M1229,2169L1282,2165M1570,1640L1604,1689M1234,1762L1317,1760M1265,1264L1349,1284M967,2222L1038,2237M559,1814L629,1868M959,2101L1027,2110M1199,2129L1244,2134M1525,1897L1561,1884M931,1404L966,1394M1357,1176L1404,1183M824,1457L895,1427M694,2027L749,2046M1645,2059L1721,2036M797,1391L838,1376M679,1336L704,1316M1202,1131L1253,1130M1365,1170L1391,1169M1525,2019L1549,2011M1687,1862L1730,1825M1511,1742L1550,1693M1518,1503L1541,1525M687,1645L705,1624M688,1322L747,1308M1390,1284L1444,1276M877,1524L923,1493M1075,1195L1140,1177M938,2149L985,2150M1671,1487L1706,1512M977,1639L997,1617M1055,1632L1091,1609M661,1448L740,1420M848,1387L882,1378M1031,2019L1105,2038M590,1676L612,1648M762,1222L837,1204M716,1343L800,1318M1055,1214L1126,1213M1616,1749L1633,1711M1238,2018L1303,2021M1462,1213L1495,1214M925,1858L994,1883M1305,2269L1346,2267M736,1507L813,1474M1050,1877L1118,1889M1012,1367L1083,1340M1555,1788L1591,1759M1366,1776L1432,1722M1046,1095L1083,1097M1275,1467L1357,1469M1379,1716L1406,1691M964,2144L1023,2151M1431,1803L1468,1777M1689,1744L1738,1670M612,1797L649,1836M1341,2103L1374,2092M1360,1355L1444,1372M1215,2164L1245,2165M1059,1485L1107,1481M1758,1543L1820,1588M814,1813L845,1832M762,1210L806,1214M974,1447L1044,1417M1217,1483L1284,1486M1355,1365L1413,1384M1100,1781L1169,1806M978,1689L1016,1720M1618,1989L1644,1980M1162,1533L1211,1539M1204,1311L1258,1318M1711,1981L1775,1939M851,1672L873,1644M1501,2095L1581,2071M1320,1873L1358,1860M1365,1221L1433,1239M1213,1890L1241,1889M786,1999L815,2005M856,1699L912,1647M1669,1798L1697,1766M1151,1293L1220,1290M708,1916L732,1925M1205,1470L1260,1466M961,1835L997,1849M1034,1127L1104,1126M1224,1811L1263,1795M1368,1206L1449,1216M1385,1909L1424,1887M1575,1500L1628,1540M1138,1117L1198,1107M1526,1627L1549,1644M1649,1544L1668,1564M773,1915L800,1926M1629,1250L1673,1287M1163,2149L1240,2150M1084,1923L1166,1932M1578,1424L1652,1455M945,1345L1012,1338M747,1758L778,1801M1422,1981L1447,1976M1189,1207L1266,1224M1237,1252L1290,1249M1431,1333L1484,1344M1597,1260L1644,1273M1312,1363L1340,1368M1390,1835L1475,1808M782,1401L816,1383M1039,2108L1076,2113M877,2201L928,2207M1235,1850L1287,1848M1311,1423L1380,1444M1319,1610L1348,1631M1031,1820L1083,1840M1057,1864L1129,1869M1500,1376L1550,1398M1520,2105L1605,2088M1538,1693L1562,1668M1167,1542L1213,1545M864,1459L941,1432M1237,2157L1320,2146M1587,1736L1620,1696M1036,1704L1070,1750M939,1273L1010,1259M1109,1900L1190,1904M1059,1400L1099,1404M1076,1364L1107,1360M606,1485L649,1431M906,1399L994,1384M1064,2259L1135,2260M993,1119L1024,1124M1440,1791L1466,1783M800,1202L824,1193M1439,1214L1485,1213M628,1757L658,1795M1284,1182L1311,1183M971,1271L1038,1259M692,1326L742,1320M1685,1522L1732,1570M1671,1871L1696,1847M798,1566L832,1540M1530,2051L1557,2045M1480,1487L1520,1500M879,1232L911,1222M942,1554L985,1535M1607,1552L1649,1615M917,1285L982,1275M897,2176L947,2187M1062,1253L1107,1260M829,1665L871,1731M705,2032L753,2055M1731,1619L1773,1659M706,2100L740,2106M1474,2013L1529,1997M1240,1492L1303,1513M1183,1226L1211,1221M1108,2179L1156,2173M887,1132L946,1134M1655,2048L1721,2013M1388,1530L1424,1541M786,2049L822,2058M819,1529L877,1503M1210,1550L1295,1540M1473,1753L1514,1704M1019,1283L1094,1261M1109,1332L1171,1326M818,2090L867,2114M1042,1443L1108,1418M1320,1361L1358,1362M1285,2255L1336,2250M612,1574L649,1534M825,2190L904,2186M1758,1886L1790,1853M1050,2269L1132,2269M1418,1145L1489,1144M973,2088L1054,2094M788,1282L836,1270M1253,1881L1317,1893M1261,1949L1298,1943M1168,1969L1196,1965M1665,1944L1723,1923M807,1219L863,1206M1257,1225L1341,1209M1566,1540L1616,1586M1605,1304L1666,1329M1551,1447L1600,1486M867,1193L952,1189M995,1490L1059,1492M1297,1810L1378,1780M1574,1584L1626,1654M670,2053L703,2065M1577,2019L1644,2000M1149,2123L1209,2117M1052,2256L1131,2246M1075,1563L1155,1543M1750,1721L1773,1699M755,1870L785,1884M1206,1555L1237,1556M1212,1054L1283,1068M745,1878L792,1907M1250,2183L1323,2183M732,2031L767,2046M1177,1331L1203,1328M1091,2168L1165,2173M1513,1764L1540,1724M1522,1719L1576,1667M1399,2182L1477,2155M1107,1267L1157,1272M1020,2011L1106,2035M1305,1525L1359,1543M1626,1261L1698,1290M1337,1085L1394,1103M1424,1554L1459,1578M804,1777L860,1822M1586,2070L1656,2073M1624,2056L1659,2040M979,2057L1034,2071M1577,1423L1648,1476M888,1441L947,1408M842,1705L859,1731M894,1602L922,1577M952,1671L979,1704M1143,1938L1194,1952M1378,2148L1429,2141M966,1107L997,1094M1243,1157L1279,1162M1471,2114L1533,2092M1019,1515L1072,1495M911,2243L978,2251M873,1965L933,1983M944,1975L1029,1974M604,1812L623,1834M1152,1931L1203,1930M1163,1327L1239,1326M923,2202L980,2224M1477,1351L1562,1372M994,1102L1045,1093M990,1195L1028,1195M1612,1709L1637,1644M1395,1747L1428,1696M954,1172L1000,1166M1582,1650L1602,1682M1526,1541L1587,1599M1517,1250L1564,1262M876,2236L937,2228M1019,2030L1075,2034M1545,2162L1598,2152M1325,1342L1390,1355M1646,1593L1708,1624M1518,1499L1591,1546M1396,1425L1472,1466M1499,1169L1566,1194M1702,1962L1745,1928M1751,1767L1786,1725M1062,2295L1088,2293M1003,1300L1084,1291M1203,1464L1278,1480M969,1341L1022,1331M1289,2230L1358,2243M1310,1071L1377,1056M825,2078L863,2082M1007,1820L1086,1837M1015,1541L1059,1530M1002,1312L1044,1297M1412,1951L1466,1936M1596,1449L1651,1477M1202,1412L1261,1421M1283,1486L1339,1488M1078,1964L1116,1954M1359,1841L1404,1834M992,1365L1023,1357M716,1863L738,1876M653,1800L724,1848M701,2039L776,2059M1250,1353L1298,1352M1368,1505L1413,1538M612,1580L666,1530M1537,1432L1603,1471M1178,1120L1258,1128M634,1915L668,1939M1422,2200L1504,2199M1789,1787L1835,1744M1000,2224L1075,2243M847,1718L886,1760M851,1659L901,1619M1237,2124L1301,2125M925,1768L949,1784M708,1906L775,1936M981,2116L1020,2121M1685,1601L1735,1664M1368,1896L1411,1900M1564,1570L1597,1625M1287,2165L1333,2165M1603,1577L1630,1610M994,2197L1062,2186M617,1624L648,1599M1102,1407L1178,1396M1169,2202L1256,2194M1077,1178L1142,1172M1264,1330L1351,1336M713,1961L778,1973M788,2139L816,2149M1084,2283L1148,2293M1051,1611L1095,1597M818,1693L836,1712M841,1789L872,1817M1193,2263L1229,2269M1363,1384L1398,1390M1093,1576L1151,1565M1446,1925L1522,1891M1136,2201L1211,2197M1310,1066L1392,1074M1045,1804L1097,1824M1138,1980L1179,1986M1628,1381L1681,1396M1671,1392L1740,1440M1052,1590L1134,1587M1273,1900L1358,1881M1643,1394L1688,1420M1558,1557L1595,1591M1314,2000L1390,2011M792,2096L847,2118M834,1675L889,1607M1596,1560L1646,1599M865,1142L898,1132M944,1390L974,1386M1157,1080L1214,1083M1326,2285L1364,2286M853,1713L884,1756M1300,1524L1366,1541M606,1731L631,1758M722,1570L751,1534M1366,1212L1451,1219M802,1458L863,1428M651,1978L712,2008M1212,1068L1285,1074M743,1623L762,1590M632,1914L661,1936M1700,1860L1747,1830M995,2114L1069,2113M1525,1572L1563,1607M779,2072L826,2076M761,1500L801,1470M1088,1330L1129,1327M664,1320L707,1304M794,1250L841,1226M1282,2114L1308,2100M1224,1335L1303,1343M894,2180L947,2171M1043,1381L1094,1377M1428,1748L1464,1729M1597,1890L1626,1860M1264,1783L1337,1762M1074,1223L1158,1229M958,1383L1041,1366M859,1345L937,1316M1742,1880L1800,1835M1465,1795L1504,1754M1483,2037L1558,2012M776,2071L832,2091M767,1949L794,1963M1405,1365L1492,1368M780,2086L849,2099M714,1358L757,1349M689,1618L716,1596M1260,2043L1314,2047M1805,1760L1821,1713M1555,1829L1604,1787M1578,1206L1624,1223M1076,1073L1121,1072M764,1294L828,1271M1028,2159L1098,2152M864,1600L893,1572M771,1591L807,1552M1306,1257L1391,1261M825,1147L881,1143M927,2086L975,2089M1460,1599L1504,1656M929,2138L1009,2159" stroke="#989898" stroke-opacity="0.65" stroke-width="12"/>
<path d="M1745,1850L1773,1811M995,1737L1029,1760M647,1878L686,1930M1552,1191L1603,1207M986,1932L1029,1945M1507,1771L1538,1692M1681,1848L1710,1822M667,1822L694,1840M1052,2199L1134,2201M798,1277L854,1258M1730,1340L1751,1364M722,1471L783,1455M658,1660L686,1624M1302,1466L1330,1470M1234,1458L1274,1461M1469,1560L1513,1580M553,1780L573,1797M1782,1891L1801,1867M1320,1847L1360,1834M1092,1044L1123,1050M1760,1529L1811,1587M655,1828L712,1855M1337,1577L1368,1592M920,1796L951,1804M857,1926L893,1938M1269,1168L1315,1168M1661,2017L1736,2008M1773,1872L1793,1840M847,1868L895,1888M592,1472L628,1451M587,1745L643,1815M613,1657L673,1599M1419,1868L1461,1855M1108,1076L1195,1072M998,1692L1029,1637M1190,1126L1269,1128M1467,1244L1516,1251M1511,1442L1550,1462M975,1113L1045,1091M1733,1762L1794,1699M1373,1735L1408,1689M772,1620L808,1591M1341,2051L1378,2055M1323,1935L1354,1933M1221,1854L1263,1852M1100,1119L1134,1130M941,1445L986,1430M1031,2032L1057,2036M1790,1711L1844,1660M891,1962L975,1992M1289,1363L1356,1364M1401,1467L1441,1470M981,1928L1034,1939M1599,1973L1667,1950M1473,1144L1522,1147M807,1266L868,1229M723,1640L742,1616M1065,2206L1127,2196M1142,2228L1180,2228M1036,1063L1094,1057M1046,2004L1094,2013M654,1535L689,1501M1178,1980L1249,1980M1718,1851L1760,1807M1599,1966L1636,1947M1526,2004L1589,1985M1581,1793L1608,1758M1367,2161L1400,2151M994,2089L1046,2091M1167,2056L1198,2058M1319,2035L1373,2027M1625,1265L1671,1281M1020,1162L1096,1143M1192,1975L1235,1974M856,1654L872,1632M830,2160L890,2161M1681,1390L1717,1416M1380,1091L1423,1101M675,1664L729,1728M839,2081L904,2113M1197,1810L1233,1810M1225,1065L1268,1063M1506,1645L1545,1673M917,1672L959,1730M673,1525L697,1507M1018,1850L1081,1879M1123,1423L1178,1421M1289,1704L1330,1655M1499,1222L1524,1231M1394,1479L1464,1510M745,1845L808,1906M1031,2011L1071,2011M916,1576L970,1546M966,2014L1043,2016M1079,2154L1132,2152M682,1987L720,2007M837,1169L866,1166M1301,1916L1382,1900M874,1645L911,1616M1506,2039L1554,2027M703,1670L729,1635M906,1962L931,1971M1065,1748L1117,1748M1024,1917L1078,1922M1147,1078L1179,1074M1712,1644L1735,1670M1583,1853L1620,1814M1657,2054L1718,2034M1256,2136L1312,2126M1751,1439L1800,1472M908,1156L958,1141M1723,1843L1765,1776M1257,2050L1306,2042M1268,1310L1346,1329M798,1701L813,1726M1638,1865L1661,1835M1509,1192L1542,1195M1337,2038L1374,2034M1613,1300L1652,1312M1335,1260L1387,1271M1137,1257L1196,1273M1033,1175L1071,1170M1015,2168L1101,2187M1706,1453L1746,1481M1675,1520L1704,1537M1374,1586L1420,1632M1020,2000L1078,1999M705,1488L772,1447M1478,2054L1515,2045M1064,2177L1095,2176M1024,1334L1091,1331M903,1813L950,1855M1171,1049L1229,1056M1345,2017L1406,2012M634,1634L649,1613M813,1515L860,1475M1030,1315L1112,1314M918,1653L960,1725M1679,1925L1709,1904M1322,1189L1364,1194M1407,1835L1483,1798M876,2194L949,2197M1137,1218L1162,1225M1105,1506L1164,1504M1375,1208L1445,1227M1050,1068L1130,1048M758,1956L784,1971M1114,1845L1154,1855M1181,1227L1262,1236M1059,2281L1087,2281M610,1719L658,1783M1157,1421L1247,1428M917,2207L948,2216M1238,2025L1273,2028M1387,2231L1426,2222M779,1786L818,1856M1053,1304L1121,1286M663,1385L723,1370M891,1713L946,1773M746,1620L799,1562M572,1701L608,1753M773,1934L823,1956M570,1764L597,1796M1332,2083L1359,2082M791,2071L877,2059M724,1642L764,1590M1017,1420L1044,1416M861,1451L894,1440M967,1694L1004,1616M792,1461L850,1429M1438,2047L1514,2009M1060,1849L1102,1851M781,1208L840,1191M996,1913L1073,1922M1140,1785L1206,1788M1318,1151L1352,1163M973,2151L1000,2154M1112,1312L1182,1321M1700,1587L1717,1624M1280,2135L1353,2115M1374,1295L1416,1297M1434,1568L1486,1616M1253,1238L1306,1240M1303,2225L1362,2225M1143,2151L1197,2150M1013,1486L1042,1482M1084,2265L1169,2265M1777,1800L1825,1745M694,1967L736,1980M888,2113L948,2130M1681,1961L1739,1900M1130,1993L1175,1983M1228,1876L1271,1869M1547,1433L1586,1463M1621,1375L1673,1397M820,1419L879,1394M1008,2085L1071,2094M1536,2181L1565,2171M997,2228L1086,2218M1734,1705L1763,1669M1053,1885L1142,1872M1472,1784L1511,1746M881,1800L921,1823M1427,1547L1473,1585M1460,1609L1512,1655M869,1448L924,1429M1510,2100L1568,2083M764,1239L823,1216M1399,2241L1443,2239M1397,2075L1436,2061M1332,2104L1368,2102M1131,1954L1176,1949M1614,1876L1630,1856M1270,2181L1310,2178M994,1840L1062,1848M1475,2152L1560,2146M1643,1802L1702,1737M1436,1869L1493,1841M618,1921L676,1963M1063,2283L1099,2281M991,1384L1058,1374M977,1699L1001,1725M1484,1222L1514,1230M1043,1725L1073,1741M1266,1409L1293,1407M1459,2042L1511,2025M1370,1881L1439,1861M1019,1160L1099,1131M1498,1729L1538,1683M943,1319L987,1303M1247,1884L1285,1876M1553,1718L1598,1656M844,1658L891,1601M1363,2215L1447,2199M864,1904L937,1917M1493,1229L1531,1246M1669,1359L1735,1387M1043,1344L1118,1350M1065,1926L1136,1947M861,1583L939,1540M1443,1573L1489,1623M1706,1650L1730,1672M1397,2087L1436,2077M905,1654L951,1710M1682,1503L1705,1531M1448,2206L1492,2199M1006,1194L1054,1182M1315,1347L1364,1360M855,1176L915,1148M1611,1478L1644,1503M1765,1570L1839,1615M1022,2046L1079,2071M1362,2260L1395,2257M798,1599L819,1578M1703,1766L1762,1698M1098,2175L1133,2167M1033,1121L1094,1118M977,1680L1001,1653M1101,2274L1145,2287M1598,1566L1642,1625M1099,1339L1163,1331M929,2266L983,2268M1613,1800L1659,1724M998,1657L1018,1637M676,1438L749,1393M708,1857L777,1902M1021,1445L1087,1436M1349,1333L1425,1335M1267,2285L1350,2268M1446,1398L1503,1431M1557,1386L1624,1414M840,1316L922,1289M1302,1783L1363,1752M941,1374L988,1369M1265,1870L1348,1882M842,2175L884,2183M986,1208L1031,1207M906,1958L933,1969M1220,1851L1287,1830M1807,1810L1824,1735M1262,1577L1294,1588M1041,1439L1124,1421M1593,1264L1629,1281M654,1366L729,1343M1428,2031L1473,2017M889,2027L963,2027M892,1924L918,1937M768,2125L810,2139M1270,1190L1316,1196M1608,1296L1660,1310M1041,2190L1080,2186M853,2211L936,2209M988,1507L1016,1495M866,1408L952,1387M1507,1737L1534,1706M1248,1075L1330,1089M1210,1982L1271,1983M1443,1811L1485,1742M1401,1218L1488,1236M1530,1198L1596,1217M1403,1194L1432,1194M948,1745L975,1753M1553,1548L1582,1591M1517,1269L1572,1288M1716,1882L1789,1847M1745,1565L1776,1605M1398,1752L1448,1721M1573,2077L1604,2068M1111,2196L1170,2203M1619,1721L1656,1671M1547,1935L1599,1913M758,1928L829,1966M1086,2199L1120,2192M1121,1311L1189,1300M1736,1640L1762,1690M845,1930L918,1966M1449,1985L1522,1981M1263,2009L1315,2010M1511,1151L1553,1162M608,1559L631,1538M1054,1364L1106,1353M1454,1622L1476,1655M897,2062L964,2084M1267,1320L1311,1325M725,1839L781,1875M1113,1082L1175,1076M1479,1915L1565,1891M1223,1204L1283,1195M753,1916L781,1935M663,1511L711,1456M768,1492L792,1476M1487,1729L1534,1657M1228,2171L1303,2155M1584,1295L1628,1305M1638,1577L1678,1655M1300,1570L1352,1600M1390,1450L1448,1475M804,1283L828,1276M884,2020L930,2029M723,1432L755,1414M623,1756L689,1804M830,1783L878,1817M977,1874L1035,1884M1254,2308L1304,2291M1457,1597L1494,1635M943,1672L996,1721M663,1411L744,1380M901,1650L934,1609M913,1444L956,1440M773,1693L809,1656M1359,2155L1428,2147M1240,1327L1267,1329M638,1439L712,1414M1124,2284L1155,2278M961,1558L1029,1544M725,1485L764,1459M811,1712L853,1768M781,1490L813,1467M697,1586L713,1554M1500,1725L1524,1661M1575,1445L1610,1471M1621,1580L1659,1645M1185,1448L1257,1457M971,1453L1007,1449M1263,1995L1322,2000M1103,1493L1187,1486M846,1360L905,1355M1139,2049L1169,2043M1236,1782L1322,1756M925,1679L974,1627M1184,1183L1226,1175M841,1340L928,1318M1620,1455L1678,1504M951,2229L1040,2235M841,2098L867,2108M1401,1272L1441,1280M1301,1364L1367,1374M844,1909L881,1931M1209,1930L1270,1935M561,1567L607,1513M859,1725L892,1745M874,1641L897,1610M947,1163L1017,1166M557,1834L621,1896M870,1660L922,1724M1302,1610L1342,1630M959,2220L996,2231M914,1892L999,1893M1682,1473L1732,1529M1004,1159L1076,1157M690,1537L714,1518M1345,1781L1383,1766M1457,1938L1495,1921M888,1716L911,1743M1289,1738L1333,1713M1607,1549L1653,1593" stroke="#989898" stroke-opacity="0.65" stroke-width="16"/>
<path d="M888,1565L899,1557M949,2201L985,2203M876,1549L895,1531M1314,1739L1332,1733M715,1784L737,1812M1627,1359L1657,1370M1480,1592L1488,1612M1249,1056L1265,1057M1285,2222L1310,2217M873,1811L881,1819M1669,1315L1680,1322M645,1465L666,1460M880,1136L902,1139M1314,1456L1325,1459M1055,1991L1083,1999M1679,1438L1703,1455M794,1696L800,1704M1520,1335L1545,1344M755,1822L770,1833M641,1537L657,1523M1626,1527L1638,1539M1689,1358L1704,1365M1575,1448L1584,1454M1207,2006L1230,2003M605,1763L621,1787M934,1503L946,1494M1523,1513L1549,1523M1788,1854L1806,1825M1525,1417L1546,1426M1362,1793L1384,1775M1066,1104L1084,1101M1621,1426L1637,1438M621,1733L636,1762M860,1990L876,2000M966,1272L991,1264M1497,1475L1507,1481M772,1356L783,1348M1463,2235L1484,2234M1369,1329L1403,1334M1596,2128L1607,2126M1150,1480L1164,1481M832,2104L856,2107M786,2020L809,2035M1391,1795L1405,1790M891,1916L900,1920M1488,1395L1514,1401M1187,2188L1200,2188M1045,1681L1063,1651M827,1858L857,1875M1084,1300L1117,1289M709,1994L719,2002M1655,2084L1675,2080M1297,1752L1315,1734M1515,1467L1529,1476M1239,1982L1258,1976M1060,1967L1094,1975M1622,2029L1647,2012M922,2165L939,2169M1223,2046L1253,2046M1337,1646L1341,1670M576,1690L597,1699M1477,1327L1495,1335M1667,1647L1676,1653M1001,1299L1032,1294M1418,1176L1441,1182M1778,1837L1794,1811M1436,2111L1466,2104M1140,2133L1164,2137M1516,1389L1547,1407M1476,2215L1498,2214M1594,1637L1608,1647M877,1207L890,1206M1497,1767L1506,1758M1525,1924L1536,1921M819,1494L833,1479M1110,2229L1134,2226M1657,1420L1672,1428M1345,1951L1357,1952M1658,1415L1671,1423M657,1464L687,1456M805,1409L826,1393M1321,2067L1351,2060M1364,2020L1394,2012M1716,1521L1732,1546M1057,2150L1092,2150M1173,1520L1202,1515M1446,1250L1464,1254M1026,1319L1061,1316M1323,2061L1357,2049M1006,1476L1031,1461M1546,2123L1567,2110M1081,1287L1113,1290M1404,1320L1435,1329M1252,2043L1274,2045M871,2063L904,2068M854,1805L876,1825M1041,1472L1069,1467M761,1365L780,1351M1132,1206L1155,1199M1690,1364L1698,1372M1219,1335L1247,1338M1238,1189L1266,1192M869,1931L897,1938M1737,1547L1743,1568M832,1258L854,1254M752,1863L765,1872M1737,1868L1745,1861M598,1728L615,1757M976,1484L996,1479M1334,2223L1368,2220M829,1622L841,1604M697,1569L701,1559M606,1838L623,1849M1496,1797L1505,1790M1644,1433L1669,1447M1176,1281L1208,1276M1131,1139L1158,1141M1383,1225L1393,1224M955,1756L983,1770M967,1640L986,1617M1469,2155L1484,2155M1127,1075L1155,1057M1466,1388L1489,1395M1725,1870L1737,1848M834,1756L850,1776M1428,1432L1458,1443M1302,1070L1329,1071M1122,1461L1139,1456M1232,1543L1250,1546M1165,1812L1183,1814M775,1718L792,1747M836,1478L855,1468M1207,1188L1234,1200M1378,1580L1391,1593M1465,1454L1478,1459M1368,1206L1391,1212M1527,1736L1538,1724M773,1568L783,1553M1080,2228L1093,2231M1238,1382L1264,1380M1299,2270L1322,2261M1097,1897L1128,1893M1148,1826L1172,1837M1235,1934L1250,1936M904,1808L927,1823M987,2232L1003,2241M1704,1757L1709,1748M836,1513L848,1505M756,1947L785,1953M1654,2100L1680,2094M553,1743L572,1757M1453,1908L1466,1905M1346,1804L1375,1798M1516,2092L1530,2087M1316,1812L1346,1799M1233,2157L1256,2159M1547,1406L1570,1419M1207,1875L1234,1872M935,1490L957,1484M1560,1470L1580,1481M1703,1631L1718,1643M909,1756L930,1782M1635,1833L1653,1818M849,1685L862,1657M720,1537L742,1522M613,1732L621,1739M794,1324L818,1316M1177,1061L1199,1063M908,1107L921,1100M1189,1434L1214,1431M1359,2118L1370,2119M1416,1711L1422,1698M1638,1446L1652,1453M1108,1362L1121,1365M1578,1411L1593,1416M1154,1300L1183,1291M883,1150L914,1145M1142,1969L1153,1970M1677,1796L1682,1783M1022,1089L1039,1086M1166,2158L1183,2156M1610,1887L1635,1873M1009,1420L1037,1403M808,1421L828,1414M894,1114L905,1115M1530,1860L1558,1840M1778,1744L1787,1734M960,2173L970,2176M784,1843L801,1854M1494,1489L1523,1498M1214,2299L1232,2305M947,1292L970,1287M704,1747L719,1756M1267,1372L1302,1369M1041,1305L1056,1302M1487,1152L1512,1168M1781,1484L1805,1500M914,2165L926,2170M1408,1691L1425,1679M1645,1719L1652,1702M1286,1633L1314,1654M1160,1485L1177,1486M1429,1712L1439,1695M968,1219L996,1210M1777,1457L1797,1473M1164,2146L1194,2152M774,1906L806,1919M1762,1641L1784,1667M1188,2148L1208,2147M955,1595L973,1583M1438,1246L1473,1255M806,2022L819,2024M968,1344L994,1338M811,1767L837,1791M731,1694L743,1720M1635,1634L1641,1642M1407,1838L1428,1826M995,1134L1022,1135M1005,1546L1035,1533M1410,2095L1445,2088M869,1121L889,1123M1588,2114L1613,2106M1117,2077L1135,2083M1620,1753L1638,1740M1748,1772L1770,1753M1000,2053L1013,2056M1279,1116L1293,1117M815,1626L838,1605M1539,1271L1560,1279M1368,1668L1375,1677M705,1612L707,1601M1175,1283L1196,1279M695,1619L716,1602M959,2038L969,2043M1312,1746L1331,1739M1354,1309L1386,1315M1130,2068L1156,2067M1206,2146L1225,2145M686,1892L711,1911M1019,2059L1048,2057M1076,2035L1097,2034M1088,1525L1121,1522" stroke="#545454" stroke-opacity="0.45" stroke-width="8"/>
<path d="M1357,2102L1377,2101M1624,1841L1652,1820M1633,1521L1648,1541M806,1924L827,1935M1044,1198L1079,1196M1719,1371L1743,1388M1319,1180L1331,1180M1473,1882L1485,1876M1656,1378L1676,1390M1577,1626L1602,1649M1701,1707L1724,1684M1115,1546L1132,1534M1339,2063L1369,2062M1155,2198L1174,2197M1652,1763L1667,1754M920,1850L949,1862M735,1892L746,1907M673,1622L687,1600M1172,1313L1205,1315M739,1978L767,1987M1017,1875L1039,1881M1093,1951L1120,1958M873,2134L899,2140M1442,1463L1469,1478M1499,2126L1509,2124M1042,1380L1058,1379M1093,1149L1108,1147M1435,2126L1464,2130M1647,1280L1660,1285M1157,2201L1178,2197M1038,1903L1052,1904M1171,1253L1196,1253M825,1310L836,1306M892,1487L901,1477M1231,1498L1243,1500M944,1506L963,1491M999,1326L1013,1319M1337,2250L1365,2235M1530,1395L1543,1401M1248,2220L1267,2224M1518,1187L1528,1187M887,2072L901,2073M1031,1979L1063,1978M588,1616L596,1606M804,1931L821,1946M1378,1248L1410,1264M1199,2094L1215,2096M1438,1885L1461,1874M1214,1883L1232,1883M576,1498L596,1478M1087,2232L1119,2234M1502,1329L1512,1334M963,1155L986,1151M1611,1722L1630,1708M1627,1427L1649,1441M1066,1418L1089,1422M1272,1352L1290,1351M953,1942L971,1943M1640,1647L1652,1663M1318,2055L1348,2052M983,1348L1005,1337M939,1442L965,1432M1619,1427L1631,1437M1096,1525L1116,1523M1256,1372L1278,1371M1491,1973L1502,1964M901,1288L930,1270M722,1869L753,1887M802,1862L830,1872M1569,1425L1588,1435M1465,1587L1486,1608M972,1511L990,1507M1015,1423L1045,1420M824,1294L857,1279M1240,1892L1255,1888M1009,2086L1043,2088M1022,1570L1041,1557M1095,2011L1116,2010M1374,1233L1396,1238M713,1999L735,2012M672,1526L685,1505M1035,2054L1058,2054M1587,2011L1606,2003M1626,1712L1636,1699M852,1475L864,1467M659,1804L671,1827M687,1952L703,1961M1576,1497L1594,1512M1135,1519L1147,1523M921,1215L937,1213M1320,1442L1343,1437M1635,1644L1655,1656M1388,1096L1403,1090M1323,2169L1333,2163M864,1235L888,1221M1552,1199L1581,1208M1445,1315L1472,1326M1267,2226L1302,2220M1443,1414L1465,1422M674,1316L694,1302M1687,1522L1698,1535M1181,1342L1205,1343M1437,1979L1454,1973M1394,1493L1407,1498M654,1903L670,1913M1160,2171L1172,2169M1780,1861L1788,1855M817,1319L836,1314M1423,2163L1438,2161M1797,1654L1806,1668M877,1377L905,1359M1527,1590L1539,1600M1550,1934L1570,1920M910,1974L932,1978M1717,1827L1730,1819M1218,1339L1235,1332M853,1951L869,1959M703,1630L710,1617M700,1602L714,1588M1143,1816L1159,1820M1718,1996L1734,1977M1204,1111L1215,1113M1187,2113L1197,2113M1199,1812L1227,1805M1441,1110L1462,1116M1655,1354L1664,1361M1327,1347L1362,1347M854,1701L874,1725M589,1825L598,1835M814,1420L829,1413M1029,1410L1050,1408M1295,1453L1329,1458M976,1203L996,1201M706,1830L729,1847M1155,1374L1176,1374M1427,1260L1455,1259M676,1373L690,1368M1051,1100L1078,1101M1157,1811L1184,1809M1071,1667L1077,1659M1021,1882L1049,1894M1476,1857L1489,1857M1767,1429L1786,1444M722,1664L743,1689M581,1857L599,1880M1436,1242L1466,1253M1579,1727L1591,1705M1247,1256L1263,1255M1572,1326L1602,1338M647,1774L656,1785M1679,1476L1712,1487M922,1733L945,1756M834,1211L844,1209M1140,1443L1173,1441M1351,1435L1380,1439M718,1946L747,1959M1598,1752L1609,1736M1414,1545L1434,1553M815,1433L842,1424M1253,1098L1269,1094M1586,2118L1603,2115M718,1620L725,1603M1519,1574L1526,1582M1559,1599L1576,1618M1581,1604L1592,1625M1448,1179L1469,1184M1376,1691L1385,1684M1564,1583L1579,1603M690,1860L720,1878M655,1395L676,1384M1427,1225L1454,1233M1454,1249L1474,1249M795,1426L814,1415M1404,1857L1427,1852M1713,1978L1737,1972M635,1617L656,1593M869,1717L886,1737M1370,1222L1387,1224M1257,1518L1268,1523M1704,1866L1715,1856M893,1700L909,1723M724,1848L739,1858M700,1536L709,1528M1433,1921L1445,1916M1452,1511L1464,1525M1442,1363L1457,1365M1431,2247L1463,2234M1064,1969L1091,1969M1000,1856L1021,1860M682,2036L704,2047M1183,1376L1199,1379M1289,1762L1303,1756M761,1848L771,1857M1351,1450L1378,1461M894,1715L918,1738M1473,1393L1507,1406M990,1757L998,1764M1327,1928L1348,1927M1473,1355L1493,1359M1451,1702L1472,1684M1423,1138L1453,1142M664,1866L685,1880M1511,1663L1519,1683M1732,1955L1755,1936M1083,2116L1118,2115M1166,1493L1193,1498M1476,1920L1501,1918M1164,1384L1197,1381" stroke="#545454" stroke-opacity="0.45" stroke-width="11"/>
<path d="M1083,1779L1099,1788M1073,1830L1088,1829M681,1895L695,1901M776,1972L791,1973M691,1994L714,1994M1113,2056L1132,2069M1304,1745L1320,1737M1295,1840L1319,1840M1217,1929L1228,1938M1200,2199L1223,2201M1310,2201L1333,2203" stroke="#676767" stroke-opacity="0.7" stroke-width="14"/>
<path d="M901,1520L913,1518M1466,1210L1487,1210M1605,1273L1609,1274M1240,1341L1261,1341M1207,1342L1217,1343M1490,1379L1506,1377M1577,1374L1581,1374M1380,1603L1397,1615M1700,1466L1705,1466M1725,1662L1730,1662M881,1694L884,1693M986,1773L991,1773M1163,2169L1167,2168M1430,1676L1432,1676M1737,1826L1739,1826M1500,2141L1510,2140" stroke="#676767" stroke-opacity="0.7" stroke-width="16"/>
<path d="M1118,1338L1148,1336M991,1661L1000,1656M1439,1182L1450,1182M1435,1335L1448,1333M1561,1260L1590,1269M1587,1419L1606,1414M1506,1506L1525,1507M898,1707L909,1705M937,1721L948,1730M775,1761L785,1760M1184,1833L1195,1833M854,1867L883,1876M881,1892L919,1891M945,1858L961,1868M1131,1951L1150,1948M1002,1961L1032,1959M1057,1958L1075,1955M1138,2004L1157,2001M1156,2080L1174,2080M760,2098L779,2097M997,2113L1015,2111M1113,2112L1132,2112M1451,1690L1467,1700M1329,1769L1342,1763M1614,1735L1629,1723M1292,1961L1322,1963M1415,1949L1425,1943M1572,1945L1600,1933M1330,2062L1348,2060M1304,2097L1317,2098M1390,2025L1408,2026M1475,1854L1485,1854" stroke="#676767" stroke-opacity="0.7" stroke-width="18"/>
<path d="M992,1214L1020,1213M886,1620L886,1620M1314,1500L1314,1500M1545,1553L1556,1552M704,1704L705,1704" stroke="#676767" stroke-opacity="0.7" stroke-width="20"/>
<path d="M1054,1351L1085,1337M1186,1166L1200,1166M1190,1528L1196,1528M1014,1574L1055,1559M840,1629L854,1632M1336,1147L1356,1150M1456,1388L1462,1389M1254,1487L1254,1487M1234,1516L1243,1515M1491,1550L1505,1548M1502,1653L1508,1653M1365,1656L1377,1647M1007,1737L1019,1746M1008,1842L1033,1845M1140,1839L1154,1834M1190,1863L1196,1863M791,1860L811,1876M1104,1984L1127,1996M960,2033L982,2046M1058,2037L1102,2042M927,2152L979,2153M1057,2249L1082,2247M1325,1688L1332,1689M1448,1882L1463,1883M1660,1933L1689,1916M1248,1987L1281,1987M1576,2030L1589,2024M1257,2049L1266,2048M1532,2121L1555,2110M1349,2231L1364,2233" stroke="#676767" stroke-opacity="0.7" stroke-width="24"/>
<path d="M902,1201L940,1188M761,1337L793,1323M1081,1399L1129,1409M1137,1428L1158,1427M1014,1523L1033,1515M1314,1369L1343,1369M1198,1412L1219,1411M1545,1617L1563,1629M1123,1904L1126,1904M1188,1921L1198,1921M807,1965L852,1984M1041,1973L1070,1976M845,2075L849,2078M1536,1794L1558,1784M1462,2054L1520,2043M1362,2074L1421,2076" stroke="#676767" stroke-opacity="0.7" stroke-width="28"/>
<path d="M1184,1302L1214,1306M642,1458L678,1446M1293,1237L1350,1240M1249,1435L1267,1447M1291,1584L1309,1592M888,1991L933,2000M1442,1951L1469,1955M1246,2225L1269,2239" stroke="#676767" stroke-opacity="0.7" stroke-width="30"/>
<path d="M1069,1281L1070,1281M984,1353L1007,1357M909,1413L948,1396M872,1428L914,1430M1009,1429L1060,1415M950,1474L964,1469M1140,1510L1155,1511M794,1542L795,1542M1381,1310L1396,1308M1408,1398L1432,1397M1150,1865L1173,1865M1359,1837L1397,1818M1425,2081L1443,2083" stroke="#676767" stroke-opacity="0.7" stroke-width="34"/>
<path d="M1037,1100L1088,1076M919,1256L938,1256M1023,1265L1060,1275M1175,1460L1211,1468M1284,1120L1302,1123M1314,1446L1378,1465M1394,1483L1461,1488M1034,1709L1042,1717M1086,1868L1103,1876M1177,1983L1196,1983M1035,2127L1091,2136M1166,2253L1185,2254M1190,1863L1276,1849M1200,1979L1230,1977M1428,2193L1476,2186" stroke="#676767" stroke-opacity="0.7" stroke-width="38"/>
<path d="M1065,1196L1109,1188M1231,1255L1256,1250M1372,1559L1440,1582M1274,1806L1298,1797M1339,1937L1402,1941M1208,2126L1272,2126" stroke="#676767" stroke-opacity="0.7" stroke-width="42"/>
<path d="M1209,2094L1236,2095" stroke="#b2b2b2" stroke-opacity="0.7" stroke-width="10"/>
<path d="M936,1161L942,1159M1062,1320L1074,1321M882,1372L890,1369M899,1452L923,1452M870,1555L902,1543M1008,1626L1018,1620M1002,1560L1010,1556M1134,1531L1140,1531M939,1685L946,1685M1323,1186L1341,1192M1153,1808L1170,1805M681,1840L696,1847M1091,1898L1094,1898M800,1905L824,1910M855,1922L861,1922M919,1947L931,1946M1141,2145L1147,2146M1173,2218L1179,2218M932,2100L939,2099M1426,1773L1442,1773M1457,1727L1461,1727M1599,1815L1615,1805M1336,2016L1342,2017M1192,1944L1225,1955M1309,2158L1333,2164M1383,2150L1408,2150M1467,2116L1472,2112M1517,2087L1521,2087M1598,1974L1602,1974" stroke="#b2b2b2" stroke-opacity="0.7" stroke-width="12"/>
<path d="M1126,1232L1148,1237M1102,1382L1143,1378M1084,1508L1098,1509M1379,1235L1405,1245M1223,1549L1250,1549M1486,1579L1496,1590M938,1687L954,1693M931,1778L1017,1793M1040,1880L1050,1881M828,2005L838,2005M1052,2000L1066,2001M1098,2019L1112,2018M834,2115L846,2123M1296,1866L1311,1863M1252,2009L1285,2013" stroke="#b2b2b2" stroke-opacity="0.7" stroke-width="14"/>
<path d="M855,1562L857,1561M1198,1372L1208,1372" stroke="#b2b2b2" stroke-opacity="0.7" stroke-width="16"/>
<path d="M770,1299L900,1252M1175,1268L1190,1279M977,1405L1014,1407M1430,1264L1456,1276M1262,1320L1275,1323M1386,1354L1433,1363M1078,1922L1079,1922M1064,2209L1100,2209M1221,1826L1231,1826M1295,1826L1305,1826M1442,1907L1483,1904" stroke="#b2b2b2" stroke-opacity="0.7" stroke-width="18"/>
<path d="M985,1172L1048,1163M913,1232L933,1223M1001,1303L1040,1297M1363,1426L1407,1435" stroke="#b2b2b2" stroke-opacity="0.7" stroke-width="20"/>
<path d="M1175,1127L1183,1124M1151,1371L1193,1367M1032,1462L1122,1424M1110,1444L1171,1453M1004,1504L1030,1495M1192,1288L1253,1281M1319,1297L1344,1296M1332,1413L1346,1413M1421,1529L1447,1548M1611,1451L1625,1456M1389,1594L1430,1610M1066,1800L1115,1813M696,1947L709,1952M931,2185L986,2173" stroke="#b2b2b2" stroke-opacity="0.7" stroke-width="22"/>
<path d="M1142,1119L1152,1118M1059,1222L1116,1223M1118,1498L1198,1473M1119,1926L1130,1927M1333,1801L1394,1777" stroke="#b2b2b2" stroke-opacity="0.7" stroke-width="26"/>
<path d="M1006,1400L1049,1388M1280,1167L1299,1165M1255,1414L1317,1423M1405,1423L1421,1432M1130,2028L1193,2020M973,2058L1075,2099M1277,1773L1302,1766M1398,1992L1478,1981M1190,2010L1227,2016" stroke="#b2b2b2" stroke-opacity="0.7" stroke-width="28"/>
<path d="M1143,1889L1201,1900M1173,1896L1279,1883M1303,1920L1425,1898" stroke="#b2b2b2" stroke-opacity="0.7" stroke-width="32"/>
<path d="M847,1392L876,1389M948,1453L965,1444M1032,1649L1051,1647M1402,1641L1403,1641" stroke="#b2b2b2" stroke-opacity="0.7" stroke-width="36"/>
<path d="M1194,1494L1196,1494M1257,1528L1336,1535M1210,2172L1242,2172" stroke="#b2b2b2" stroke-opacity="0.7" stroke-width="40"/>
<path d="M1150,1866L1171,1866" stroke="#393939" stroke-opacity="0.85" stroke-width="20"/>
<path d="M1250,1438L1268,1446" stroke="#404040" stroke-opacity="0.85" stroke-width="18"/>
<path d="M1318,1449L1371,1463M1404,1485L1459,1490M1200,1863L1268,1854" stroke="#404040" stroke-opacity="0.85" stroke-width="24"/>
<path d="M1068,1192L1106,1189" stroke="#404040" stroke-opacity="0.85" stroke-width="26"/>
<path d="M1426,2081L1443,2081" stroke="#444444" stroke-opacity="0.85" stroke-width="20"/>
<path d="M1178,1462L1210,1468M1037,2128L1083,2136" stroke="#444444" stroke-opacity="0.85" stroke-width="24"/>
<path d="M1189,1164L1203,1164M1188,1864L1195,1864M1450,1884L1464,1884" stroke="#484848" stroke-opacity="0.85" stroke-width="14"/>
<path d="M1086,1403L1124,1409M1137,1428L1157,1428M1018,1518L1035,1510M1198,1411L1217,1411M1123,1903L1128,1903M1187,1922L1198,1922M1042,1972L1066,1978" stroke="#484848" stroke-opacity="0.85" stroke-width="16"/>
<path d="M1299,1235L1345,1242M893,1991L930,1999M1444,1952L1467,1952" stroke="#484848" stroke-opacity="0.85" stroke-width="18"/>
<path d="M984,1356L1006,1356M875,1428L910,1428M1015,1427L1056,1416M952,1476L966,1471M1139,1509L1154,1509" stroke="#484848" stroke-opacity="0.85" stroke-width="20"/>
<path d="M1088,1868L1105,1876M1178,1983L1197,1983M1198,1980L1224,1980M1435,2192L1475,2186" stroke="#484848" stroke-opacity="0.85" stroke-width="24"/>
<path d="M1383,1557L1433,1586M1273,1807L1296,1799M1344,1941L1396,1941" stroke="#484848" stroke-opacity="0.85" stroke-width="26"/>
<path d="M1183,1834L1193,1834" stroke="#4b4b4b" stroke-opacity="0.85" stroke-width="12"/>
<path d="M1190,1529L1197,1529M1011,1842L1033,1842M1106,1989L1126,1996M1249,1987L1277,1987" stroke="#4b4b4b" stroke-opacity="0.85" stroke-width="14"/>
<path d="M1315,1372L1340,1369M814,1967L850,1980M1539,1794L1558,1785M1370,2073L1417,2077" stroke="#4b4b4b" stroke-opacity="0.85" stroke-width="16"/>
<path d="M1187,1305L1213,1308M1291,1583L1308,1589" stroke="#4b4b4b" stroke-opacity="0.85" stroke-width="18"/>
<path d="M910,1411L943,1399M792,1542L794,1542M1383,1310L1398,1310M1364,1833L1396,1818" stroke="#4b4b4b" stroke-opacity="0.85" stroke-width="20"/>
<path d="M1284,1118L1302,1122" stroke="#4b4b4b" stroke-opacity="0.85" stroke-width="24"/>
<path d="M1232,1254L1256,1249" stroke="#4b4b4b" stroke-opacity="0.85" stroke-width="26"/>
<path d="M1075,1829L1088,1829M1428,1676L1432,1676M1308,1742L1322,1737M1298,1842L1317,1842M1215,1932L1226,1939M1203,2196L1222,2196" stroke="#4f4f4f" stroke-opacity="0.85" stroke-width="10"/>
<path d="M992,1214L1015,1214M1121,1337L1145,1337M990,1664L999,1659M883,1619L884,1619M1434,1334L1446,1334M1563,1263L1587,1267M1310,1497L1311,1497M938,1724L948,1732M858,1871L882,1875M885,1890L915,1890M1131,1949L1147,1949M1006,1960L1030,1960M1058,1955L1074,1955M1139,2002L1155,2002M1158,2081L1174,2081M1116,2113L1132,2113M1331,1771L1341,1765M1294,1963L1318,1963M1418,1948L1427,1943M1333,2063L1349,2063M1308,2097L1320,2097" stroke="#4f4f4f" stroke-opacity="0.85" stroke-width="12"/>
<path d="M1057,1349L1083,1341M1019,1570L1054,1561M1336,1145L1354,1150M1452,1387L1460,1387M1253,1484L1254,1484M1234,1514L1243,1514M1503,1653L1510,1653M1364,1659L1375,1650M1003,1737L1015,1744M1141,1841L1154,1836M794,1863L812,1876M961,2033L981,2043M1062,2040L1098,2043M933,2152L975,2152M1061,2251L1083,2251M1577,2029L1590,2024M1257,2050L1267,2050" stroke="#4f4f4f" stroke-opacity="0.85" stroke-width="14"/>
<path d="M907,1196L940,1191M764,1332L790,1319M1543,1618L1558,1629M845,2074L850,2078M1465,2051L1512,2044" stroke="#4f4f4f" stroke-opacity="0.85" stroke-width="16"/>
<path d="M1069,1283L1070,1283M1409,1397L1430,1399" stroke="#4f4f4f" stroke-opacity="0.85" stroke-width="20"/>
<path d="M921,1254L939,1254M1028,1264L1058,1275M1033,1706L1042,1715M1166,2252L1184,2252" stroke="#4f4f4f" stroke-opacity="0.85" stroke-width="24"/>
<path d="M1214,2126L1266,2126" stroke="#4f4f4f" stroke-opacity="0.85" stroke-width="26"/>
<path d="M900,1520L911,1520M679,1898L691,1903M777,1976L790,1976" stroke="#535353" stroke-opacity="0.85" stroke-width="10"/>
<path d="M1590,1417L1606,1417M1508,1507L1524,1507M948,1861L962,1869" stroke="#535353" stroke-opacity="0.85" stroke-width="12"/>
<path d="M838,1630L852,1630M1322,1689L1330,1689" stroke="#535353" stroke-opacity="0.85" stroke-width="14"/>
<path d="M1468,1210L1485,1210M1606,1274L1611,1274M1243,1343L1261,1343M1209,1344L1218,1344M1490,1380L1504,1380M1576,1372L1582,1372M1381,1605L1396,1614M1697,1466L1702,1466M1725,1660L1730,1660M881,1694L884,1694M1085,1780L1098,1788M982,1773L988,1773M693,1994L712,1994M1115,2058L1130,2069M1162,2170L1168,2170M1735,1827L1738,1827M1311,2202L1330,2202M1498,2139L1508,2139" stroke="#565656" stroke-opacity="0.85" stroke-width="10"/>
<path d="M1438,1183L1448,1183M1542,1551L1553,1551M704,1703L707,1703M899,1706L909,1703M774,1759L784,1759M758,2096L774,2096M995,2111L1011,2111M1451,1693L1465,1701M1613,1734L1627,1724M1575,1944L1597,1934M1391,2025L1408,2025M1474,1854L1485,1854" stroke="#565656" stroke-opacity="0.85" stroke-width="12"/>
<path d="M1492,1551L1506,1551M1662,1933L1686,1919M1533,2118L1553,2109M1348,2233L1362,2233" stroke="#565656" stroke-opacity="0.85" stroke-width="14"/>
<path d="M646,1459L676,1448M1246,2225L1267,2236" stroke="#565656" stroke-opacity="0.85" stroke-width="18"/>
<path d="M1041,1094L1086,1081" stroke="#565656" stroke-opacity="0.85" stroke-width="24"/>
<path d="M1209,2095L1231,2095" stroke="#b6b6b6" stroke-opacity="0.85" stroke-width="6"/>
<path d="M803,1898L822,1907M857,1922L864,1922M1171,2215L1178,2215M933,2098L939,2098M1196,1944L1222,1956M1385,2149L1406,2149M1466,2118L1471,2114M1516,2089L1520,2089M1597,1972L1602,1972" stroke="#b6b6b6" stroke-opacity="0.85" stroke-width="8"/>
<path d="M938,1161L945,1158M1064,1320L1074,1320M882,1371L890,1369M901,1449L922,1449M873,1556L900,1544M1011,1626L1020,1620M1001,1560L1009,1556M1131,1531L1138,1531M939,1682L946,1682M1325,1186L1341,1190M1487,1578L1496,1589M1155,1807L1170,1805M682,1843L695,1849M922,1946L933,1946M1141,2146L1148,2146M1426,1776L1441,1776M1458,1729L1463,1729M1599,1816L1614,1808M1257,2011L1284,2016M1338,2015L1345,2015M1312,2161L1332,2164" stroke="#b9b9b9" stroke-opacity="0.85" stroke-width="8"/>
<path d="M853,1561L857,1561" stroke="#b9b9b9" stroke-opacity="0.85" stroke-width="10"/>
<path d="M1423,1530L1448,1545M1391,1600L1426,1610" stroke="#b9b9b9" stroke-opacity="0.85" stroke-width="14"/>
<path d="M1127,1231L1145,1238M1104,1383L1137,1377M1381,1234L1402,1244M1226,1548L1250,1548M940,1687L955,1693M944,1774L1011,1792M1041,1880L1050,1880M1090,1898L1095,1898M830,2005L839,2005M1051,2001L1065,2001M834,2117L847,2121M1297,1865L1310,1860" stroke="#bdbdbd" stroke-opacity="0.85" stroke-width="8"/>
<path d="M784,1292L886,1255M979,1405L1010,1405M1432,1263L1453,1277M1261,1321L1274,1324M1390,1355L1428,1362M1199,1371L1209,1371M1077,1921L1080,1921M1296,1827L1307,1827M1446,1908L1481,1905" stroke="#bdbdbd" stroke-opacity="0.85" stroke-width="10"/>
<path d="M990,1170L1042,1163M913,1232L931,1223M1366,1426L1403,1436" stroke="#bdbdbd" stroke-opacity="0.85" stroke-width="12"/>
<path d="M1172,1127L1183,1127M1613,1453L1627,1458M695,1947L709,1952" stroke="#bdbdbd" stroke-opacity="0.85" stroke-width="14"/>
<path d="M1279,1169L1298,1165" stroke="#bdbdbd" stroke-opacity="0.85" stroke-width="16"/>
<path d="M1402,1642L1403,1642" stroke="#bdbdbd" stroke-opacity="0.85" stroke-width="22"/>
<path d="M1222,1827L1233,1827" stroke="#c1c1c1" stroke-opacity="0.85" stroke-width="10"/>
<path d="M1002,1298L1036,1298" stroke="#c1c1c1" stroke-opacity="0.85" stroke-width="12"/>
<path d="M1004,1507L1027,1499M1198,1282L1249,1282M939,2178L986,2178" stroke="#c1c1c1" stroke-opacity="0.85" stroke-width="14"/>
<path d="M981,2071L1068,2090" stroke="#c1c1c1" stroke-opacity="0.85" stroke-width="16"/>
<path d="M848,1395L876,1390" stroke="#c1c1c1" stroke-opacity="0.85" stroke-width="22"/>
<path d="M1084,1507L1098,1507M1098,2019L1112,2019" stroke="#c4c4c4" stroke-opacity="0.85" stroke-width="8"/>
<path d="M1174,1268L1188,1277M1067,2211L1098,2211" stroke="#c4c4c4" stroke-opacity="0.85" stroke-width="10"/>
<path d="M1042,1456L1116,1429M1322,1296L1344,1296M1332,1412L1347,1412M1070,1802L1112,1813" stroke="#c4c4c4" stroke-opacity="0.85" stroke-width="14"/>
<path d="M1142,1119L1154,1119M1118,1926L1131,1926M1136,2031L1187,2018M1280,1776L1304,1770M1340,1796L1391,1778M1405,1992L1472,1982M1190,2014L1223,2014" stroke="#c4c4c4" stroke-opacity="0.85" stroke-width="16"/>
<path d="M949,1448L968,1441" stroke="#c4c4c4" stroke-opacity="0.85" stroke-width="22"/>
<path d="M1260,1527L1328,1533M1210,2171L1242,2171" stroke="#c4c4c4" stroke-opacity="0.85" stroke-width="24"/>
<path d="M1010,1402L1048,1392" stroke="#c8c8c8" stroke-opacity="0.85" stroke-width="16"/>
<path d="M1155,1369L1192,1369M1113,1450L1164,1450" stroke="#cccccc" stroke-opacity="0.85" stroke-width="14"/>
<path d="M1064,1224L1112,1228M1123,1493L1189,1475M1406,1420L1423,1429" stroke="#cccccc" stroke-opacity="0.85" stroke-width="16"/>
<path d="M1310,1918L1409,1897" stroke="#cccccc" stroke-opacity="0.85" stroke-width="20"/>
<path d="M1031,1651L1051,1651" stroke="#cccccc" stroke-opacity="0.85" stroke-width="22"/>
<path d="M1259,1421L1312,1421" stroke="#d3d3d3" stroke-opacity="0.85" stroke-width="16"/>
<path d="M1147,1895L1198,1895M1179,1898L1264,1880" stroke="#d3d3d3" stroke-opacity="0.85" stroke-width="20"/>
<path d="M1191,1495L1199,1495" stroke="#d3d3d3" stroke-opacity="0.85" stroke-width="24"/>
<path d="M1152,1868L1169,1867" stroke="#090909" stroke-opacity="0.9" stroke-width="10"/>
<path d="M1253,1441L1268,1445" stroke="#1f1f1f" stroke-opacity="0.9" stroke-width="10"/>
<path d="M1186,1866L1193,1865" stroke="#232323" stroke-opacity="0.9" stroke-width="8"/>
<path d="M1325,1453L1363,1462M1416,1487L1455,1491M1210,1864L1258,1858" stroke="#232323" stroke-opacity="0.9" stroke-width="12"/>
<path d="M1193,1162L1204,1162M1091,1406L1119,1410M1139,1429L1154,1430M1454,1886L1465,1886" stroke="#272727" stroke-opacity="0.9" stroke-width="8"/>
<path d="M1427,2082L1441,2080" stroke="#272727" stroke-opacity="0.9" stroke-width="10"/>
<path d="M1072,1189L1100,1189M1183,1464L1208,1467M1040,2129L1074,2135" stroke="#272727" stroke-opacity="0.9" stroke-width="12"/>
<path d="M1214,1936L1223,1939" stroke="#2a2a2a" stroke-opacity="0.9" stroke-width="4"/>
<path d="M1023,1512L1036,1505M1199,1410L1214,1411M1124,1902L1130,1902M1188,1923L1197,1923M1045,1972L1062,1980" stroke="#2a2a2a" stroke-opacity="0.9" stroke-width="8"/>
<path d="M880,1428L906,1427M1021,1425L1052,1417M954,1478L967,1474M1139,1508L1152,1507" stroke="#2a2a2a" stroke-opacity="0.9" stroke-width="10"/>
<path d="M1182,1835L1190,1835" stroke="#2e2e2e" stroke-opacity="0.9" stroke-width="6"/>
<path d="M1190,1531L1198,1531M1108,1993L1124,1996M1252,1988L1272,1988" stroke="#2e2e2e" stroke-opacity="0.9" stroke-width="8"/>
<path d="M986,1359L1003,1356M1307,1235L1338,1242M900,1991L926,1997M1447,1953L1465,1951" stroke="#2e2e2e" stroke-opacity="0.9" stroke-width="10"/>
<path d="M1181,1982L1197,1983M1274,1808L1292,1801M1351,1944L1389,1942" stroke="#2e2e2e" stroke-opacity="0.9" stroke-width="12"/>
<path d="M1078,1829L1088,1829" stroke="#323232" stroke-opacity="0.9" stroke-width="4"/>
<path d="M1131,1948L1143,1950M1161,2081L1174,2081M1333,1773L1341,1767" stroke="#323232" stroke-opacity="0.9" stroke-width="6"/>
<path d="M1317,1374L1335,1371M1015,1842L1031,1840" stroke="#323232" stroke-opacity="0.9" stroke-width="8"/>
<path d="M912,1409L937,1402" stroke="#323232" stroke-opacity="0.9" stroke-width="10"/>
<path d="M1394,1558L1425,1585M1091,1868L1105,1875M1197,1981L1217,1982M1444,2190L1474,2186" stroke="#323232" stroke-opacity="0.9" stroke-width="12"/>
<path d="M1312,1739L1323,1737M1302,1843L1315,1844M1206,2192L1220,2191" stroke="#353535" stroke-opacity="0.9" stroke-width="4"/>
<path d="M990,1666L997,1662M1011,1960L1028,1961M1060,1953L1072,1956M1140,2001L1152,2003M1427,1676L1431,1675M1296,1965L1313,1964M1421,1947L1428,1943M1337,2064L1349,2065M1313,2096L1323,2096" stroke="#353535" stroke-opacity="0.9" stroke-width="6"/>
<path d="M1026,1567L1051,1563M1234,1511L1243,1512M1504,1654L1512,1654M1000,1737L1011,1741M1142,1842L1152,1838M821,1969L848,1977M1542,1793L1556,1786M1258,2051L1267,2051M1379,2073L1411,2078" stroke="#353535" stroke-opacity="0.9" stroke-width="8"/>
<path d="M1191,1309L1211,1309M790,1542L794,1542M1386,1309L1399,1311M1292,1582L1306,1587M1370,1829L1394,1818" stroke="#353535" stroke-opacity="0.9" stroke-width="10"/>
<path d="M1285,1117L1300,1120" stroke="#353535" stroke-opacity="0.9" stroke-width="12"/>
<path d="M993,1214L1009,1214M1306,1495L1309,1495" stroke="#393939" stroke-opacity="0.9" stroke-width="6"/>
<path d="M914,1193L938,1193M768,1325L787,1316M1060,1347L1080,1345M1338,1144L1350,1149M1251,1482L1253,1482M1365,1661L1373,1654M799,1866L812,1875M963,2034L979,2039M1067,2043L1092,2044M1066,2253L1083,2254M1579,2028L1589,2024" stroke="#393939" stroke-opacity="0.9" stroke-width="8"/>
<path d="M1234,1252L1253,1249" stroke="#393939" stroke-opacity="0.9" stroke-width="12"/>
<path d="M677,1901L686,1904M779,1979L789,1979" stroke="#3d3d3d" stroke-opacity="0.9" stroke-width="4"/>
<path d="M1124,1335L1141,1336M900,1521L909,1522M881,1618L883,1618M1434,1333L1443,1334M1565,1265L1583,1265M940,1728L947,1734M863,1873L880,1874M889,1889L911,1889M1119,2114L1131,2114" stroke="#3d3d3d" stroke-opacity="0.9" stroke-width="6"/>
<path d="M1541,1620L1553,1629M845,2073L851,2078M1470,2049L1503,2046" stroke="#3d3d3d" stroke-opacity="0.9" stroke-width="8"/>
<path d="M1411,1397L1428,1400" stroke="#3d3d3d" stroke-opacity="0.9" stroke-width="10"/>
<path d="M923,1252L939,1253M1034,1264L1056,1274M1221,2125L1258,2126" stroke="#3d3d3d" stroke-opacity="0.9" stroke-width="12"/>
<path d="M1087,1782L1096,1787M695,1994L709,1994M1116,2061L1128,2068M1314,2203L1327,2201" stroke="#404040" stroke-opacity="0.9" stroke-width="4"/>
<path d="M1593,1416L1605,1418M1510,1507L1523,1506M951,1864L962,1870" stroke="#404040" stroke-opacity="0.9" stroke-width="6"/>
<path d="M1450,1385L1457,1385M940,2152L969,2151" stroke="#404040" stroke-opacity="0.9" stroke-width="8"/>
<path d="M1068,1285L1071,1285" stroke="#404040" stroke-opacity="0.9" stroke-width="10"/>
<path d="M1034,1704L1042,1712" stroke="#404040" stroke-opacity="0.9" stroke-width="12"/>
<path d="M1438,1184L1446,1184M1470,1210L1483,1210M1607,1275L1612,1275M1246,1344L1259,1345M1212,1345L1219,1345M1491,1382L1501,1383M1576,1370L1581,1369M1382,1607L1394,1612M901,1704L908,1701M880,1694L884,1694M757,2094L769,2094M994,2110L1006,2111M1162,2171L1168,2172M1452,1696L1463,1702M1613,1732L1624,1726M1733,1827L1737,1827M1475,1854L1483,1854" stroke="#444444" stroke-opacity="0.9" stroke-width="6"/>
<path d="M837,1631L848,1628M1321,1691L1328,1689" stroke="#444444" stroke-opacity="0.9" stroke-width="8"/>
<path d="M1166,2252L1182,2251" stroke="#444444" stroke-opacity="0.9" stroke-width="12"/>
<path d="M1540,1550L1549,1550M1694,1465L1699,1465M1725,1657L1730,1657M706,1702L709,1702M979,1773L984,1774M1498,2137L1506,2138" stroke="#484848" stroke-opacity="0.9" stroke-width="6"/>
<path d="M1495,1553L1506,1554M1665,1932L1683,1922M1535,2115L1550,2109M1348,2235L1359,2233" stroke="#484848" stroke-opacity="0.9" stroke-width="8"/>
<path d="M774,1758L782,1758M1578,1942L1593,1934M1394,2024L1406,2024" stroke="#4b4b4b" stroke-opacity="0.9" stroke-width="6"/>
<path d="M651,1459L673,1451M1247,2225L1263,2233" stroke="#4b4b4b" stroke-opacity="0.9" stroke-width="10"/>
<path d="M1047,1088L1080,1085" stroke="#4b4b4b" stroke-opacity="0.9" stroke-width="12"/>
<path d="M860,1922L865,1922M1515,2090L1519,2091M1597,1970L1601,1971" stroke="#c4c4c4" stroke-opacity="0.9" stroke-width="4"/>
<path d="M1427,1533L1445,1541M1395,1606L1420,1610" stroke="#c4c4c4" stroke-opacity="0.9" stroke-width="6"/>
<path d="M1403,1643L1404,1642" stroke="#c4c4c4" stroke-opacity="0.9" stroke-width="10"/>
<path d="M852,1561L856,1561M808,1894L819,1903M1170,2213L1176,2213M934,2096L939,2096M1202,1945L1218,1955M1211,2097L1226,2096M1389,2147L1403,2148M1466,2120L1470,2116" stroke="#c8c8c8" stroke-opacity="0.9" stroke-width="4"/>
<path d="M1171,1127L1180,1129M999,1168L1033,1163M1373,1427L1397,1435M1616,1456L1627,1459M696,1949L707,1952" stroke="#c8c8c8" stroke-opacity="0.9" stroke-width="6"/>
<path d="M1281,1169L1295,1166" stroke="#c8c8c8" stroke-opacity="0.9" stroke-width="8"/>
<path d="M802,1284L868,1260M983,1405L1004,1404M1261,1323L1271,1326M1396,1356L1421,1361M1489,1579L1495,1586M1076,1920L1080,1920M1453,1909L1476,1907M1263,2014L1281,2018" stroke="#cccccc" stroke-opacity="0.9" stroke-width="4"/>
<path d="M941,1160L946,1158M1129,1231L1141,1237M1066,1320L1074,1319M1108,1384L1129,1378M883,1370L889,1369M904,1446L918,1446M879,1555L895,1546M1014,1625L1021,1621M1001,1560L1007,1556M1130,1530L1136,1530M939,1680L944,1680M1329,1187L1340,1188M1385,1234L1399,1242M1435,1264L1448,1276M1232,1548L1248,1548M944,1687L954,1693M961,1773L1002,1788M1158,1806L1168,1804M684,1846L693,1850M927,1946L934,1946M832,2005L839,2005M1052,2001L1062,2001M836,2118L846,2120M1143,2147L1149,2146M1427,1780L1437,1780M1460,1732L1464,1731M1299,1827L1308,1827M1298,1862L1307,1857M1601,1817L1611,1811M1341,2014L1346,2014M1315,2163L1329,2165" stroke="#cfcfcf" stroke-opacity="0.9" stroke-width="4"/>
<path d="M915,1231L928,1225" stroke="#cfcfcf" stroke-opacity="0.9" stroke-width="6"/>
<path d="M997,2082L1055,2084" stroke="#cfcfcf" stroke-opacity="0.9" stroke-width="8"/>
<path d="M852,1397L872,1392" stroke="#cfcfcf" stroke-opacity="0.9" stroke-width="10"/>
<path d="M1214,2171L1237,2170" stroke="#cfcfcf" stroke-opacity="0.9" stroke-width="12"/>
<path d="M1090,1898L1094,1898" stroke="#d3d3d3" stroke-opacity="0.9" stroke-width="4"/>
<path d="M1269,1526L1315,1530" stroke="#d3d3d3" stroke-opacity="0.9" stroke-width="12"/>
<path d="M1201,1370L1209,1370M1043,1880L1050,1879" stroke="#d7d7d7" stroke-opacity="0.9" stroke-width="4"/>
<path d="M1006,1295L1029,1298M1006,1509L1022,1503M1208,1278L1241,1282M951,2175L981,2181" stroke="#d7d7d7" stroke-opacity="0.9" stroke-width="6"/>
<path d="M1144,1120L1154,1121M1145,2032L1178,2018M1417,1990L1461,1984" stroke="#d7d7d7" stroke-opacity="0.9" stroke-width="8"/>
<path d="M1224,1828L1233,1828" stroke="#dadada" stroke-opacity="0.9" stroke-width="4"/>
<path d="M1057,1450L1105,1434M1326,1296L1342,1297" stroke="#dadada" stroke-opacity="0.9" stroke-width="6"/>
<path d="M1351,1790L1385,1779M1194,2016L1217,2013" stroke="#dadada" stroke-opacity="0.9" stroke-width="8"/>
<path d="M952,1442L968,1438" stroke="#dadada" stroke-opacity="0.9" stroke-width="10"/>
<path d="M1174,1268L1185,1273M1072,2213L1093,2213" stroke="#dedede" stroke-opacity="0.9" stroke-width="4"/>
<path d="M1078,1805L1105,1812" stroke="#dedede" stroke-opacity="0.9" stroke-width="6"/>
<path d="M1120,1925L1130,1925M1286,1778L1304,1774" stroke="#dedede" stroke-opacity="0.9" stroke-width="8"/>
<path d="M1335,1410L1346,1410" stroke="#e2e2e2" stroke-opacity="0.9" stroke-width="6"/>
<path d="M1017,1404L1043,1397M1323,1913L1387,1898" stroke="#e2e2e2" stroke-opacity="0.9" stroke-width="8"/>
<path d="M1032,1652L1048,1654" stroke="#e2e2e2" stroke-opacity="0.9" stroke-width="10"/>
<path d="M1087,1505L1096,1505M1100,2019L1109,2020" stroke="#e5e5e5" stroke-opacity="0.9" stroke-width="4"/>
<path d="M1409,1418L1422,1426" stroke="#e5e5e5" stroke-opacity="0.9" stroke-width="8"/>
<path d="M1073,1226L1106,1231" stroke="#e9e9e9" stroke-opacity="0.9" stroke-width="8"/>
<path d="M1163,1367L1188,1369M1121,1453L1154,1448" stroke="#ededed" stroke-opacity="0.9" stroke-width="6"/>
<path d="M1133,1488L1177,1478" stroke="#ededed" stroke-opacity="0.9" stroke-width="8"/>
<path d="M1191,1497L1200,1496" stroke="#f0f0f0" stroke-opacity="0.9" stroke-width="12"/>
<path d="M1268,1426L1303,1421M1156,1898L1190,1892M1190,1897L1244,1880" stroke="#fbfbfb" stroke-opacity="0.9" stroke-width="8"/>
</g>
</g>
</g>
<g filter="url(#soft2)">
<path d="M1180.9,1673 l14.6,19.5 l-14.6,19.5 l-14.6,-19.5Z" fill="#000"/>
<rect x="565.0" y="1050.0" width="1250.0" height="1249.4" fill="none" stroke="#000" stroke-opacity="0.74" stroke-width="5.8"/>
<path d="M565.3,2299.4v-15M565.0,2299.2h15M877.8,2299.4v-15M565.0,1986.8h15M1190.3,2299.4v-15M565.0,1674.5h15M1502.8,2299.4v-15M565.0,1362.2h15M1815.3,2299.4v-15M565.0,1049.8h15" stroke="#111" stroke-width="4" fill="none"/>
<rect x="1826.0" y="1062.0" width="51.0" height="1248.8000000000002" fill="url(#cb)"/>
<rect x="1826.0" y="1062.0" width="51.0" height="1248.8000000000002" fill="none" stroke="#555" stroke-width="2.5"/>
<path d="M1877.0,2301.8h-8.5M1877.0,2283.8h-8.5M1877.0,2265.9h-8.5M1877.0,2247.9h-8.5M1877.0,2230.0h-8.5M1877.0,2212.0h-16.5M1877.0,2194.0h-8.5M1877.0,2176.1h-8.5M1877.0,2158.1h-8.5M1877.0,2140.2h-8.5M1877.0,2122.2h-8.5M1877.0,2104.2h-8.5M1877.0,2086.3h-8.5M1877.0,2068.3h-8.5M1877.0,2050.4h-8.5M1877.0,2032.4h-16.5M1877.0,2014.4h-8.5M1877.0,1996.5h-8.5M1877.0,1978.5h-8.5M1877.0,1960.6h-8.5M1877.0,1942.6h-8.5M1877.0,1924.6h-8.5M1877.0,1906.7h-8.5M1877.0,1888.7h-8.5M1877.0,1870.8h-8.5M1877.0,1852.8h-16.5M1877.0,1834.8h-8.5M1877.0,1816.9h-8.5M1877.0,1798.9h-8.5M1877.0,1781.0h-8.5M1877.0,1763.0h-8.5M1877.0,1745.0h-8.5M1877.0,1727.1h-8.5M1877.0,1709.1h-8.5M1877.0,1691.2h-8.5M1877.0,1673.2h-16.5M1877.0,1655.2h-8.5M1877.0,1637.3h-8.5M1877.0,1619.3h-8.5M1877.0,1601.4h-8.5M1877.0,1583.4h-8.5M1877.0,1565.4h-8.5M1877.0,1547.5h-8.5M1877.0,1529.5h-8.5M1877.0,1511.6h-8.5M1877.0,1493.6h-16.5M1877.0,1475.6h-8.5M1877.0,1457.7h-8.5M1877.0,1439.7h-8.5M1877.0,1421.8h-8.5M1877.0,1403.8h-8.5M1877.0,1385.8h-8.5M1877.0,1367.9h-8.5M1877.0,1349.9h-8.5M1877.0,1332.0h-8.5M1877.0,1314.0h-16.5M1877.0,1296.0h-8.5M1877.0,1278.1h-8.5M1877.0,1260.1h-8.5M1877.0,1242.2h-8.5M1877.0,1224.2h-8.5M1877.0,1206.2h-8.5M1877.0,1188.3h-8.5M1877.0,1170.3h-8.5M1877.0,1152.4h-8.5M1877.0,1134.4h-16.5M1877.0,1116.4h-8.5M1877.0,1098.5h-8.5M1877.0,1080.5h-8.5" stroke="#101010" stroke-width="3.8" fill="none"/>
<g class="t2" font-size="46.6">
<text x="1899.5" y="1151.7">3</text>
<text x="1899.5" y="1331.3">2</text>
<text x="1899.5" y="1510.9">1</text>
<text x="1899.5" y="1690.5">0</text>
<text x="1899.5" y="1870.1">-1</text>
<text x="1899.5" y="2049.7">-2</text>
<text x="1899.5" y="2229.3">-3</text>
</g>
<text class="t2" font-size="46.9" transform="translate(2003.3,2044.5) rotate(-90)">Calibrated Wave Elevation [m]</text>
<g class="t2" font-size="53" text-anchor="end">
<text x="537" y="1069.8">1000</text>
<text x="537" y="1382.2">500</text>
<text x="537" y="1694.5">0</text>
<text x="537" y="2006.8">-500</text>
<text x="537" y="2319.2">-1000</text>
</g>
<g class="t2" font-size="53" text-anchor="middle">
<text x="564.3" y="2356.8">-1000</text>
<text x="876.8" y="2356.8">-500</text>
<text x="1189.3" y="2356.8">0</text>
<text x="1501.8" y="2356.8">500</text>
<text x="1814.3" y="2356.8">1000</text>
<text x="1190.2" y="2412" font-size="53.9">Distance [m]</text>
</g>
<text class="t2" font-size="54.1" text-anchor="middle" transform="translate(347.5,1673.3) rotate(-90)">Distance [m]</text>
</g>
</svg></body></html>
